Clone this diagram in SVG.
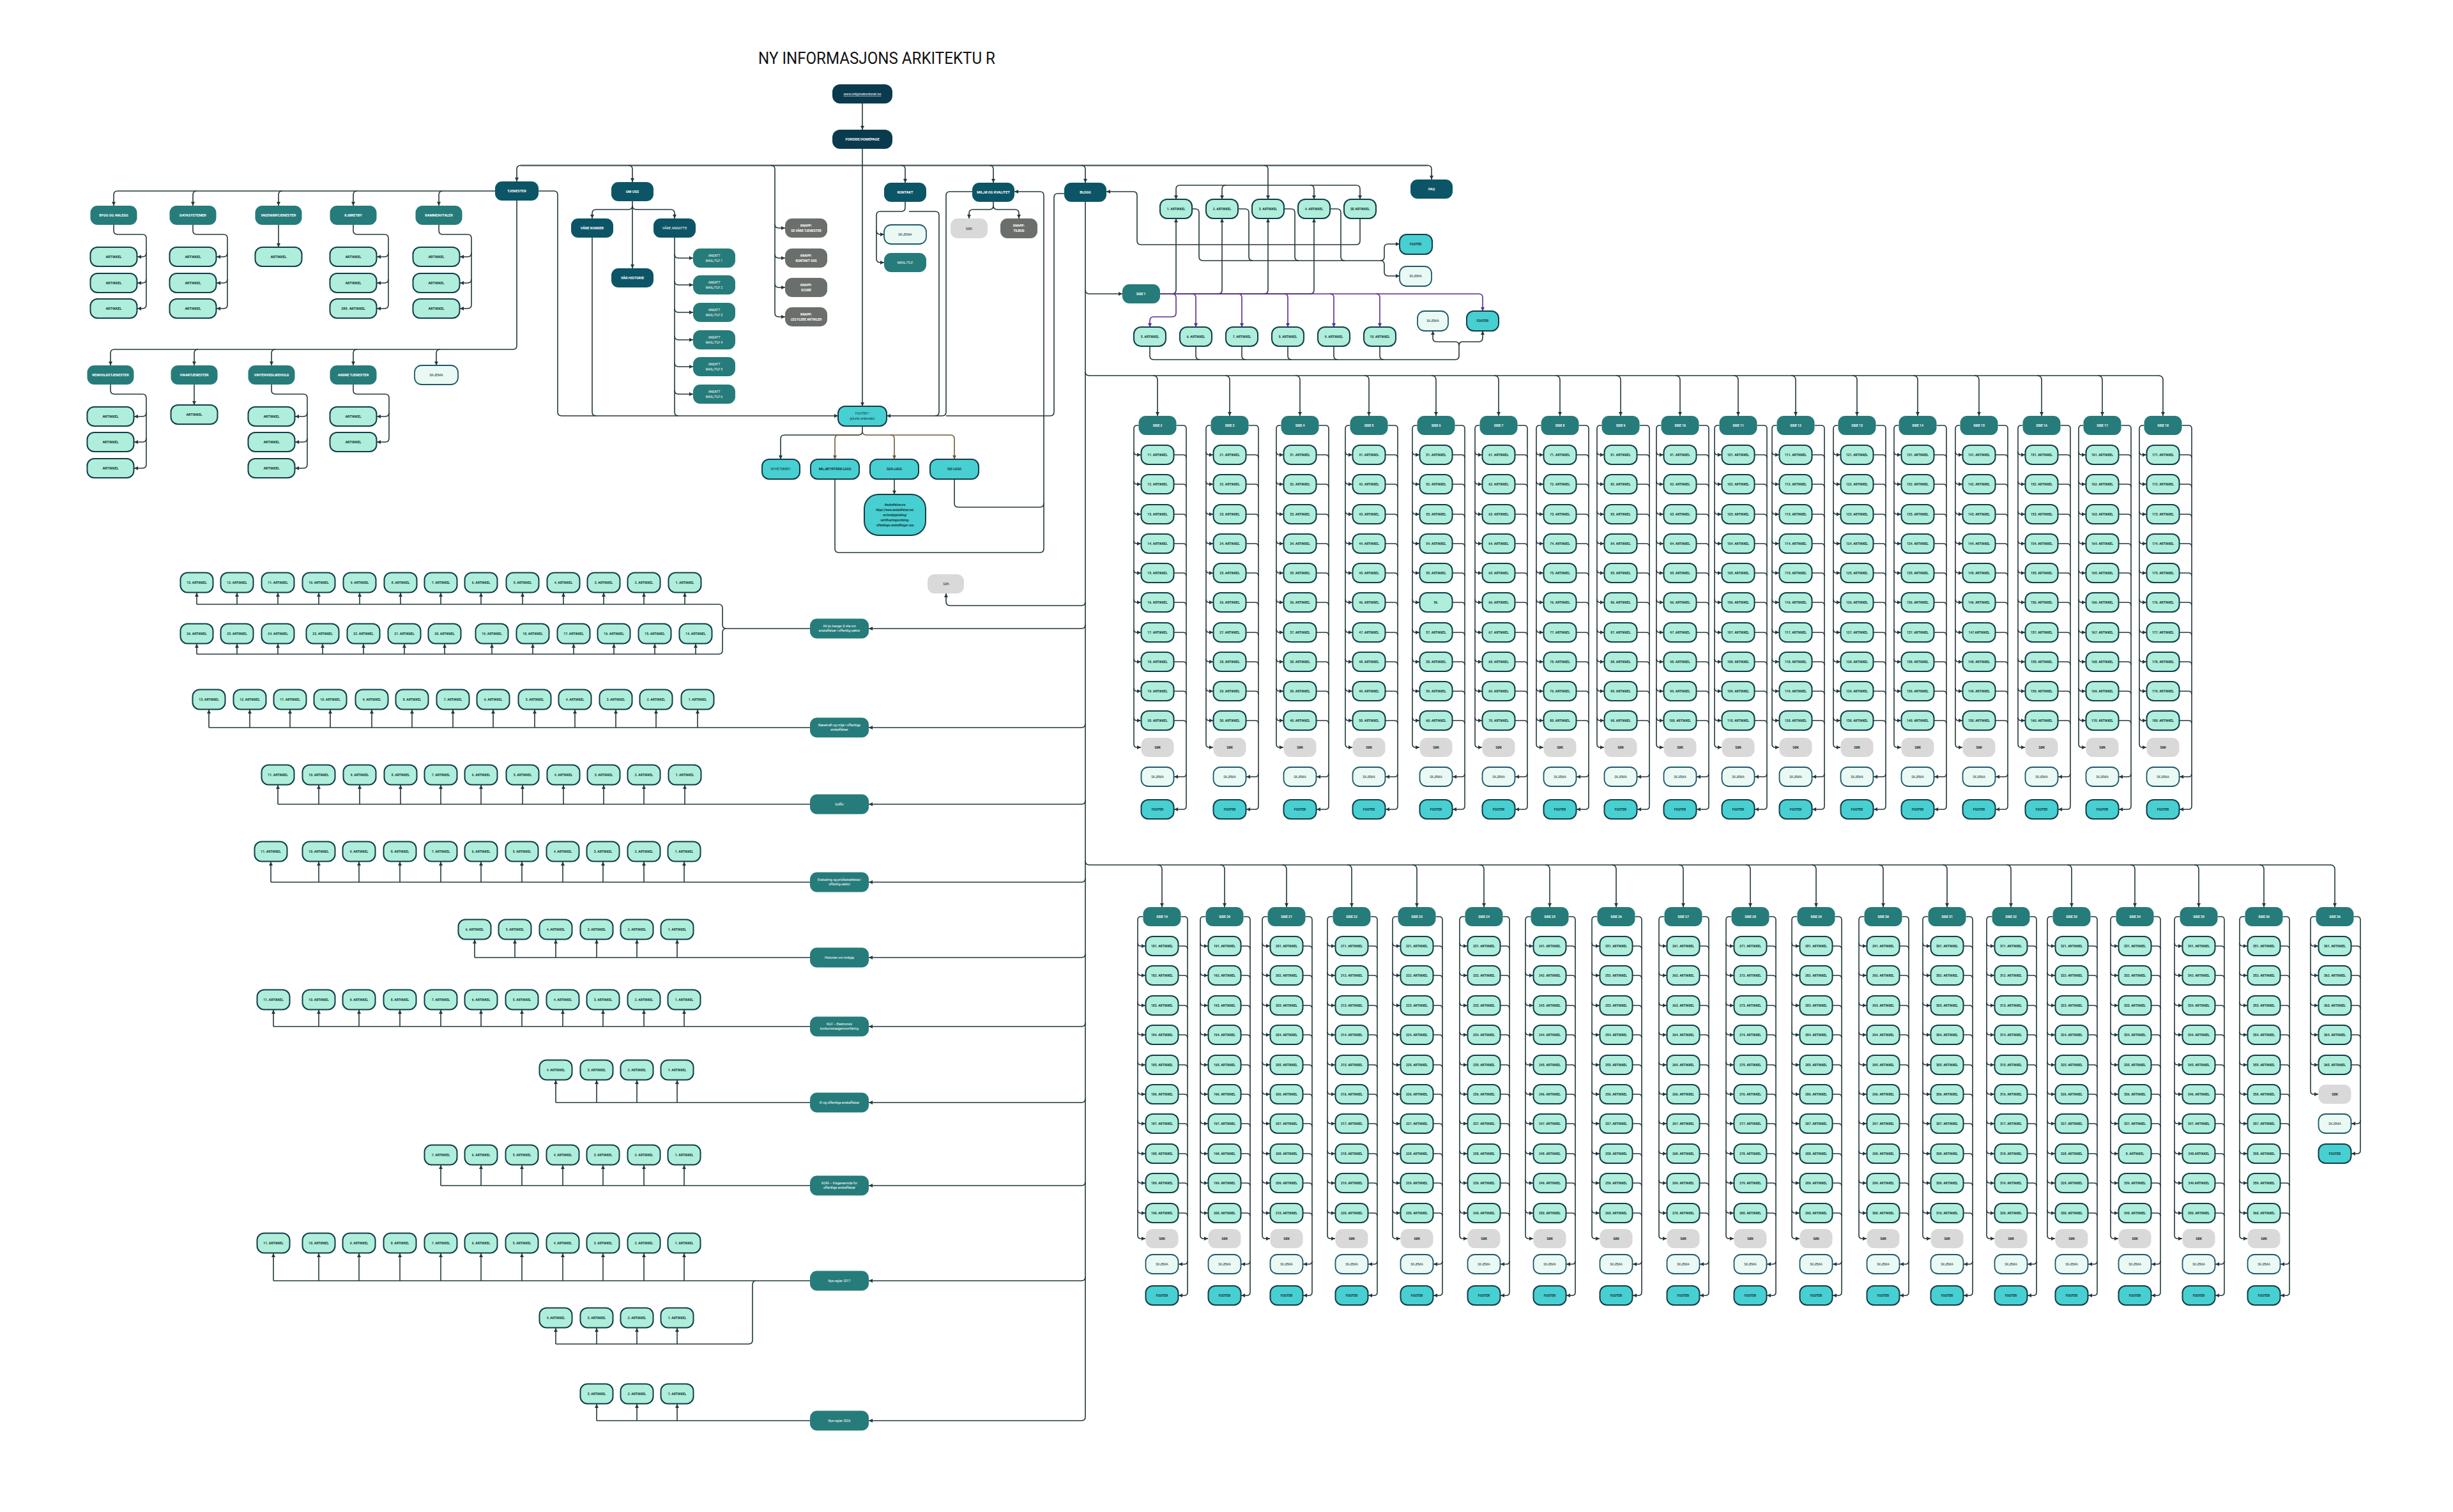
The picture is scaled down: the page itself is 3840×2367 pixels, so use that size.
<svg xmlns="http://www.w3.org/2000/svg" width="3840" height="2367" viewBox="0 0 3840 2367">
<style>
text{font-family:Roboto,"Liberation Sans",sans-serif;font-weight:700;font-size:5px;text-anchor:middle;fill:#15333b}
.w{fill:#fff}
.l{font-weight:400}
.u{font-size:5.5px}
.sm{font-size:4.6px}
.a{fill:#aeeedb;stroke:#123e4a;stroke-width:2}
.h{fill:#267c7a}
.d{fill:#0c5567}
.n{fill:#0a3a4e}
.s{fill:#eaf9f4;stroke:#1e5b6a;stroke-width:1.8}
.k{fill:#d9d9d9}
.f{fill:#48cfd1;stroke:#123e4a;stroke-width:2}
.g{fill:#6b6f6b}
.c path{fill:none;stroke:#24383b;stroke-width:1.6}
.c .e{marker-end:url(#m)}
.c .p{stroke:#5b2a91;marker-end:url(#mp)}
.c .b{stroke:#6d5a3a;marker-end:url(#mb)}
.c .M{stroke:#55686a;stroke-width:2.4}
.T{font-weight:400;font-size:25px;text-anchor:start;fill:#111}
</style>
<defs>
<marker id="m" viewBox="0 0 8 8" refX="8" refY="4" markerWidth="6" markerHeight="6" markerUnits="userSpaceOnUse" orient="auto"><path d="M0 0L8 4L0 8z" fill="#24383b"/></marker>
<marker id="mp" viewBox="0 0 8 8" refX="8" refY="4" markerWidth="6" markerHeight="6" markerUnits="userSpaceOnUse" orient="auto"><path d="M0 0L8 4L0 8z" fill="#5b2a91"/></marker>
<marker id="mb" viewBox="0 0 8 8" refX="8" refY="4" markerWidth="6" markerHeight="6" markerUnits="userSpaceOnUse" orient="auto"><path d="M0 0L8 4L0 8z" fill="#6d5a3a"/></marker>
<rect id="GA" class="a" x="-25.5" width="51" height="30" rx="11"/>
<rect id="GH" class="h" x="-29.5" width="59" height="30" rx="11"/>
<rect id="GK" class="k" x="-25.5" width="51" height="30" rx="11"/>
<rect id="GS" class="s" x="-25.5" width="51" height="30" rx="11"/>
<rect id="GF" class="f" x="-25.5" width="51" height="30" rx="11"/>
<rect id="L" class="a" x="-25.5" y="-15.5" width="51" height="31" rx="11"/>
<rect id="U" class="a" x="-36.5" width="73" height="30" rx="11"/>
<rect id="UH" class="h" x="-36.5" width="73" height="30" rx="11"/>
<rect id="SN" class="h" x="-46" y="-15.5" width="92" height="31" rx="11"/>
<rect id="B" class="a" x="-25" width="50" height="30" rx="11"/>
<rect id="AN" class="h" x="-33" width="66" height="30" rx="11"/>
<rect id="KN" class="g" x="-33" width="66" height="30" rx="11"/>
<g id="ct" class="c">
<path class="e" d="M-7 588Q0 588 0 595V651"/>
<path class="e" d="M-29.5 666H-32Q-37 666-37 671V1165Q-37 1170-32 1170H-26"/>
<path class="e" d="M-37 707Q-37 712-32 712H-26"/><path class="e" d="M-37 753Q-37 758-32 758H-26"/><path class="e" d="M-37 800Q-37 805-32 805H-26"/><path class="e" d="M-37 846Q-37 851-32 851H-26"/><path class="e" d="M-37 892Q-37 897-32 897H-26"/><path class="e" d="M-37 938Q-37 943-32 943H-26"/><path class="e" d="M-37 985Q-37 990-32 990H-26"/><path class="e" d="M-37 1031Q-37 1036-32 1036H-26"/><path class="e" d="M-37 1077Q-37 1082-32 1082H-26"/><path class="e" d="M-37 1123Q-37 1128-32 1128H-26"/>
<path class="e" d="M29.5 666H40Q45 666 45 671V1262Q45 1267 40 1267H26"/>
<path class="e" d="M45 1211Q45 1216 40 1216H26"/>
<path d="M26 712H40Q45 712 45 717M26 758H40Q45 758 45 763M26 805H40Q45 805 45 810M26 851H40Q45 851 45 856M26 897H40Q45 897 45 902M26 943H40Q45 943 45 948M26 990H40Q45 990 45 995M26 1036H40Q45 1036 45 1041M26 1082H40Q45 1082 45 1087M26 1128H40Q45 1128 45 1133"/>
</g>
<g id="cb" class="c">
<path class="e" d="M-7 1354Q0 1354 0 1361V1420"/>
<path class="e" d="M-29.5 1435H-33Q-38 1435-38 1440V1934Q-38 1939-33 1939H-26"/>
<path class="e" d="M-38 1476Q-38 1481-33 1481H-26"/><path class="e" d="M-38 1522Q-38 1527-33 1527H-26"/><path class="e" d="M-38 1569Q-38 1574-33 1574H-26"/><path class="e" d="M-38 1615Q-38 1620-33 1620H-26"/><path class="e" d="M-38 1662Q-38 1667-33 1667H-26"/><path class="e" d="M-38 1708Q-38 1713-33 1713H-26"/><path class="e" d="M-38 1754Q-38 1759-33 1759H-26"/><path class="e" d="M-38 1801Q-38 1806-33 1806H-26"/><path class="e" d="M-38 1847Q-38 1852-33 1852H-26"/><path class="e" d="M-38 1894Q-38 1899-33 1899H-26"/>
<path class="e" d="M29.5 1435H35Q40 1435 40 1440V2023Q40 2028 35 2028H26"/>
<path class="e" d="M40 1974Q40 1979 35 1979H26"/>
<path d="M26 1481H35Q40 1481 40 1486M26 1527H35Q40 1527 40 1532M26 1574H35Q40 1574 40 1579M26 1620H35Q40 1620 40 1625M26 1667H35Q40 1667 40 1672M26 1713H35Q40 1713 40 1718M26 1759H35Q40 1759 40 1764M26 1806H35Q40 1806 40 1811M26 1852H35Q40 1852 40 1857M26 1899H35Q40 1899 40 1904"/>
</g>
<g id="cb5" class="c">
<path class="e" d="M-7 1354Q0 1354 0 1361V1420"/>
<path class="e" d="M-29.5 1435H-33Q-38 1435-38 1440V1708Q-38 1713-33 1713H-26"/>
<path class="e" d="M-38 1476Q-38 1481-33 1481H-26"/><path class="e" d="M-38 1522Q-38 1527-33 1527H-26"/><path class="e" d="M-38 1569Q-38 1574-33 1574H-26"/><path class="e" d="M-38 1615Q-38 1620-33 1620H-26"/><path class="e" d="M-38 1662Q-38 1667-33 1667H-26"/>
<path class="e" d="M29.5 1435H35Q40 1435 40 1440V1801Q40 1806 35 1806H26"/>
<path class="e" d="M40 1754Q40 1759 35 1759H26"/>
<path d="M26 1481H35Q40 1481 40 1486M26 1527H35Q40 1527 40 1532M26 1574H35Q40 1574 40 1579M26 1620H35Q40 1620 40 1625M26 1667H35Q40 1667 40 1672"/>
</g>
</defs>
<rect width="3840" height="2367" fill="#fff"/>
<text class="T" x="1187" y="100" textLength="371" lengthAdjust="spacingAndGlyphs">NY INFORMASJONS ARKITEKTU R</text>

<g id="connectors" class="c">
<path class="M" d="M815 259H2235"/>
<path class="e" d="M815 259Q809 259 809 265V284"/>
<path class="e" d="M2235 259Q2241 259 2241 265V281"/>
<path class="e" d="M1350 162V203"/>
<path class="e" d="M1350 233V636"/>
<path class="e" d="M984 259Q990 259 990 265V285"/>
<path class="e" d="M1411 259Q1417 259 1417 265V286"/>
<path class="e" d="M1549 259Q1555 259 1555 265V286"/>
<path class="e" d="M1693 259Q1699 259 1699 265V286"/>
<path class="e" d="M1979 259Q1985 259 1985 265V312"/>
<path class="e" d="M1207 259Q1213 259 1213 265V490Q1213 496 1219 496H1229"/>
<path class="e" d="M1213 351Q1213 357 1219 357H1229"/><path class="e" d="M1213 398Q1213 404 1219 404H1229"/><path class="e" d="M1213 444Q1213 450 1219 450H1229"/>
<!-- tjenester row 1 -->
<path class="e" d="M775 299H184Q178 299 178 305V322"/>
<path class="e" d="M308 299Q302 299 302 305V322"/><path class="e" d="M442 299Q436 299 436 305V322"/><path class="e" d="M559 299Q553 299 553 305V322"/><path class="e" d="M693 299Q687 299 687 305V322"/>
<path class="e" d="M178 352V361Q178 367 184 367H223Q229 367 229 373V477Q229 483 223 483H215"/><path class="e" d="M229 396Q229 402 223 402H215"/><path class="e" d="M229 437Q229 443 223 443H215"/>
<path class="e" d="M302 352V361Q302 367 308 367H350Q356 367 356 373V477Q356 483 350 483H339"/><path class="e" d="M356 396Q356 402 350 402H339"/><path class="e" d="M356 437Q356 443 350 443H339"/>
<path class="e" d="M436 352V387"/>
<path class="e" d="M553 352V361Q553 367 559 367H602Q608 367 608 373V477Q608 483 602 483H590"/><path class="e" d="M608 396Q608 402 602 402H590"/><path class="e" d="M608 437Q608 443 602 443H590"/>
<path class="e" d="M687 352V361Q687 367 693 367H732Q738 367 738 373V477Q738 483 732 483H720"/><path class="e" d="M738 396Q738 402 732 402H720"/><path class="e" d="M738 437Q738 443 732 443H720"/>
<!-- tjenester row 2 -->
<path class="e" d="M809 314V541Q809 547 803 547H179Q173 547 173 553V572"/>
<path class="e" d="M310 547Q304 547 304 553V572"/><path class="e" d="M431 547Q425 547 425 553V572"/><path class="e" d="M559 547Q553 547 553 553V572"/><path class="e" d="M689 547Q683 547 683 553V572"/>
<path class="e" d="M173 602V611Q173 617 179 617H223Q229 617 229 623V727Q229 733 223 733H210"/><path class="e" d="M229 646Q229 652 223 652H210"/><path class="e" d="M229 686Q229 692 223 692H210"/>
<path class="e" d="M304 602V634"/>
<path class="e" d="M425 602V611Q425 617 431 617H475Q481 617 481 623V727Q481 733 475 733H462"/><path class="e" d="M481 646Q481 652 475 652H462"/><path class="e" d="M481 686Q481 692 475 692H462"/>
<path class="e" d="M553 602V611Q553 617 559 617H603Q609 617 609 623V686Q609 692 603 692H590"/><path class="e" d="M609 646Q609 652 603 652H590"/>
<!-- om oss -->
<path class="e" d="M843 299H867Q873 299 873 305V645Q873 651 879 651H1312"/>
<path class="e" d="M990 315V420"/>
<path class="e" d="M990 322Q990 328 984 328H933Q927 328 927 334V342"/>
<path class="e" d="M990 322Q990 328 996 328H1050Q1056 328 1056 334V342"/>
<path d="M927 372V645Q927 651 933 651M1056 372V645Q1056 651 1062 651"/>
<path class="e" d="M1056 398Q1056 404 1062 404H1085"/><path class="e" d="M1056 440Q1056 446 1062 446H1085"/><path class="e" d="M1056 483Q1056 489 1062 489H1085"/><path class="e" d="M1056 526Q1056 532 1062 532H1085"/><path class="e" d="M1056 568Q1056 574 1062 574H1085"/><path class="e" d="M1056 611Q1056 617 1062 617H1085"/>
<!-- kontakt / miljo / blogg to footer -->
<path class="e" d="M1417 315V325Q1417 331 1411 331H1378Q1372 331 1372 337V405Q1372 411 1378 411H1384"/>
<path class="e" d="M1372 361Q1372 367 1378 367H1384"/>
<path class="e" d="M1423 331H1464Q1470 331 1470 337V645Q1470 651 1464 651H1388"/>
<path d="M1522 300H1487Q1481 300 1481 306V645Q1481 651 1475 651H1464"/>
<path d="M1666 303H1656Q1650 303 1650 309V645Q1650 651 1644 651H1481"/>
<path class="e" d="M1555 315V322Q1555 328 1549 328H1523Q1517 328 1517 334V342"/>
<path class="e" d="M1555 322Q1555 328 1561 328H1589Q1595 328 1595 334V342"/>
<path class="e" d="M1350 667V675Q1350 681 1344 681H1228Q1222 681 1222 687V719"/>
<path class="b" d="M1350 675Q1350 681 1356 681H1488Q1494 681 1494 687V719"/>
<path class="b" d="M1344 681H1313Q1307 681 1307 687V719"/>
<path class="b" d="M1394 681Q1400 681 1400 687V719"/>
<path class="e" d="M1400 750V774"/>
<path class="e" d="M1307 750V859Q1307 865 1313 865H1628Q1634 865 1634 859V306Q1634 300 1628 300H1588"/>
<path d="M1494 750V788Q1494 794 1500 794H1628Q1634 794 1634 788"/>
<!-- blogg articles -->
<path class="e" d="M1985 290H1847Q1841 290 1841 296V312"/>
<path class="e" d="M1919 290Q1913 290 1913 296V312"/>
<path class="e" d="M1985 290H2123Q2129 290 2129 296V312"/>
<path class="e" d="M2051 290Q2057 290 2057 296V312"/>
<path class="e" d="M1816 460H2051Q2057 460 2057 454V342"/>
<path class="e" d="M1835 460Q1841 460 1841 454V342"/><path class="e" d="M1907 460Q1913 460 1913 454V342"/><path class="e" d="M1979 460Q1985 460 1985 454V342"/>
<path class="p" d="M1816 460H2315Q2321 460 2321 466V487"/>
<path class="p" d="M1835 460Q1841 460 1841 466V490Q1841 496 1835 496H1806Q1800 496 1800 502V512"/>
<path class="p" d="M1866 460Q1872 460 1872 466V512"/><path class="p" d="M1938 460Q1944 460 1944 466V512"/><path class="p" d="M2010 460Q2016 460 2016 466V512"/><path class="p" d="M2082 460Q2088 460 2088 466V512"/><path class="p" d="M2154 460Q2160 460 2160 466V512"/>
<path class="e" d="M1800 542V557Q1800 563 1806 563H2278Q2284 563 2284 557V541Q2284 535 2290 535H2315Q2321 535 2321 529V518"/>
<path class="e" d="M2284 541Q2284 535 2278 535H2249Q2243 535 2243 529V518"/>
<path d="M1872 542V557Q1872 563 1878 563M1944 542V557Q1944 563 1950 563M2016 542V557Q2016 563 2022 563M2088 542V557Q2088 563 2094 563M2160 542V557Q2160 563 2166 563"/>
<path class="e" d="M1866 327H1871Q1877 327 1877 333V402Q1877 408 1883 408H2161Q2167 408 2167 402V388Q2167 382 2173 382H2191"/>
<path class="e" d="M2161 408Q2167 408 2167 414V426Q2167 432 2173 432H2191"/>
<path d="M1938 327H1949Q1955 327 1955 333V402Q1955 408 1961 408M2010 327H2021Q2027 327 2027 333V402Q2027 408 2033 408M2082 327H2093Q2099 327 2099 333V402Q2099 408 2105 408"/>
<path class="e" d="M2129 342V377Q2129 383 2123 383H1786Q1780 383 1780 377V306Q1780 300 1774 300H1732"/>
<!-- spine -->
<path class="e" d="M1699 315V2218Q1699 2224 1693 2224H1360"/>
<path class="e" d="M1699 454Q1699 460 1705 460H1757"/>
<path d="M1699 582Q1699 588 1705 588H3380"/>
<path d="M1699 1348Q1699 1354 1705 1354H3649"/>
<path class="e" d="M1699 942Q1699 948 1693 948H1487Q1481 948 1481 942V929"/>
<path class="e" d="M1699 978Q1699 984 1693 984H1360"/><path class="e" d="M1699 1133Q1699 1139 1693 1139H1360"/><path class="e" d="M1699 1253Q1699 1259 1693 1259H1360"/><path class="e" d="M1699 1375Q1699 1381 1693 1381H1360"/><path class="e" d="M1699 1493Q1699 1499 1693 1499H1360"/><path class="e" d="M1699 1601Q1699 1607 1693 1607H1360"/><path class="e" d="M1699 1720Q1699 1726 1693 1726H1360"/><path class="e" d="M1699 1850Q1699 1856 1693 1856H1360"/><path class="e" d="M1699 1999Q1699 2005 1693 2005H1360"/>
<!-- left rows -->
<path d="M1268 984H1137Q1131 984 1131 978V952Q1131 946 1125 946H308M1137 984Q1131 984 1131 990V1018Q1131 1024 1125 1024H308"/>
<path class="e" d="M308 946V928"/><path class="e" d="M371 946V928"/><path class="e" d="M435 946V928"/><path class="e" d="M499 946V928"/><path class="e" d="M563 946V928"/><path class="e" d="M627 946V928"/><path class="e" d="M690 946V928"/><path class="e" d="M753 946V928"/><path class="e" d="M818 946V928"/><path class="e" d="M882 946V928"/><path class="e" d="M945 946V928"/><path class="e" d="M1008 946V928"/><path class="e" d="M1072 946V928"/>
<path class="e" d="M308 1024V1008"/><path class="e" d="M371 1024V1008"/><path class="e" d="M435 1024V1008"/><path class="e" d="M505 1024V1008"/><path class="e" d="M569 1024V1008"/><path class="e" d="M633 1024V1008"/><path class="e" d="M696 1024V1008"/><path class="e" d="M770 1024V1008"/><path class="e" d="M834 1024V1008"/><path class="e" d="M898 1024V1008"/><path class="e" d="M961 1024V1008"/><path class="e" d="M1025 1024V1008"/><path class="e" d="M1089 1024V1008"/>
<path d="M1268 1139H327"/>
<path class="e" d="M327 1139V1111"/><path class="e" d="M391 1139V1111"/><path class="e" d="M454 1139V1111"/><path class="e" d="M517 1139V1111"/><path class="e" d="M582 1139V1111"/><path class="e" d="M645 1139V1111"/><path class="e" d="M709 1139V1111"/><path class="e" d="M772 1139V1111"/><path class="e" d="M837 1139V1111"/><path class="e" d="M900 1139V1111"/><path class="e" d="M964 1139V1111"/><path class="e" d="M1027 1139V1111"/><path class="e" d="M1092 1139V1111"/>
<path d="M1268 1259H435"/>
<path class="e" d="M435 1259V1229"/><path class="e" d="M499 1259V1229"/><path class="e" d="M563 1259V1229"/><path class="e" d="M627 1259V1229"/><path class="e" d="M690 1259V1229"/><path class="e" d="M753 1259V1229"/><path class="e" d="M818 1259V1229"/><path class="e" d="M882 1259V1229"/><path class="e" d="M945 1259V1229"/><path class="e" d="M1008 1259V1229"/><path class="e" d="M1072 1259V1229"/>
<path d="M1268 1381H424"/>
<path class="e" d="M424 1381V1349"/><path class="e" d="M499 1381V1349"/><path class="e" d="M562 1381V1349"/><path class="e" d="M626 1381V1349"/><path class="e" d="M690 1381V1349"/><path class="e" d="M753 1381V1349"/><path class="e" d="M817 1381V1349"/><path class="e" d="M881 1381V1349"/><path class="e" d="M944 1381V1349"/><path class="e" d="M1008 1381V1349"/><path class="e" d="M1071 1381V1349"/>
<path d="M1268 1499H743"/>
<path class="e" d="M743 1499V1471"/><path class="e" d="M806 1499V1471"/><path class="e" d="M870 1499V1471"/><path class="e" d="M934 1499V1471"/><path class="e" d="M997 1499V1471"/><path class="e" d="M1060 1499V1471"/>
<path d="M1268 1607H428"/>
<path class="e" d="M428 1607V1581"/><path class="e" d="M499 1607V1581"/><path class="e" d="M562 1607V1581"/><path class="e" d="M626 1607V1581"/><path class="e" d="M690 1607V1581"/><path class="e" d="M753 1607V1581"/><path class="e" d="M817 1607V1581"/><path class="e" d="M881 1607V1581"/><path class="e" d="M944 1607V1581"/><path class="e" d="M1008 1607V1581"/><path class="e" d="M1071 1607V1581"/>
<path d="M1268 1726H870"/>
<path class="e" d="M870 1726V1691"/><path class="e" d="M934 1726V1691"/><path class="e" d="M997 1726V1691"/><path class="e" d="M1060 1726V1691"/>
<path d="M1268 1856H690"/>
<path class="e" d="M690 1856V1824"/><path class="e" d="M753 1856V1824"/><path class="e" d="M817 1856V1824"/><path class="e" d="M881 1856V1824"/><path class="e" d="M944 1856V1824"/><path class="e" d="M1008 1856V1824"/><path class="e" d="M1071 1856V1824"/>
<path d="M1268 2005H428M1184 2005Q1178 2005 1178 2011V2098Q1178 2104 1172 2104H870"/>
<path class="e" d="M428 2005V1962"/><path class="e" d="M499 2005V1962"/><path class="e" d="M562 2005V1962"/><path class="e" d="M626 2005V1962"/><path class="e" d="M690 2005V1962"/><path class="e" d="M753 2005V1962"/><path class="e" d="M817 2005V1962"/><path class="e" d="M881 2005V1962"/><path class="e" d="M944 2005V1962"/><path class="e" d="M1008 2005V1962"/><path class="e" d="M1071 2005V1962"/>
<path class="e" d="M870 2104V2079"/><path class="e" d="M934 2104V2079"/><path class="e" d="M997 2104V2079"/><path class="e" d="M1060 2104V2079"/>
<path d="M1268 2224H934"/>
<path class="e" d="M934 2224V2198"/><path class="e" d="M997 2224V2198"/><path class="e" d="M1060 2224V2198"/>
<!-- grids -->
<use href="#ct" x="1812"/><use href="#ct" x="1925"/><use href="#ct" x="2035"/><use href="#ct" x="2143"/><use href="#ct" x="2248"/><use href="#ct" x="2346"/><use href="#ct" x="2442"/><use href="#ct" x="2537"/><use href="#ct" x="2630"/><use href="#ct" x="2721"/><use href="#ct" x="2811"/><use href="#ct" x="2907"/><use href="#ct" x="3002"/><use href="#ct" x="3098"/><use href="#ct" x="3196"/><use href="#ct" x="3291"/><use href="#ct" x="3386"/>
<use href="#cb" x="1819"/><use href="#cb" x="1917"/><use href="#cb" x="2014"/><use href="#cb" x="2116"/><use href="#cb" x="2218"/><use href="#cb" x="2323"/><use href="#cb" x="2426"/><use href="#cb" x="2530"/><use href="#cb" x="2635"/><use href="#cb" x="2740"/><use href="#cb" x="2843"/><use href="#cb" x="2948"/><use href="#cb" x="3048"/><use href="#cb" x="3148"/><use href="#cb" x="3243"/><use href="#cb" x="3342"/><use href="#cb" x="3442"/><use href="#cb" x="3544"/><use href="#cb5" x="3655"/>
</g>

<!-- top nodes -->
<g id="www"><rect class="n" x="1303" y="132" width="94" height="30" rx="12"/><text class="w u l" x="1350" y="149" text-decoration="underline">www.inkjonskontoret.no</text></g>
<g id="forside"><rect class="n" x="1303" y="203" width="94" height="30" rx="12"/><text class="w u" x="1350" y="220">FORSIDE/HOMEPAGE</text></g>
<g id="tjenester"><rect class="d" x="775" y="284" width="68" height="30" rx="11"/><text class="w u" x="809" y="301">TJENESTER</text></g>
<g id="bygg"><use href="#UH" x="178" y="322"/><text class="w u" x="178" y="339">BYGG OG ANLEGG</text></g>
<g id="data"><use href="#UH" x="302" y="322"/><text class="w u" x="302" y="339">DATASYSTEMER</text></g>
<g id="ingenior"><use href="#UH" x="436" y="322"/><text class="w u" x="436" y="339">INGENIØRTJENESTER</text></g>
<g id="kjoretoy"><use href="#UH" x="553" y="322"/><text class="w u" x="553" y="339">KJØRETØY</text></g>
<g id="ramme"><use href="#UH" x="687" y="322"/><text class="w u" x="687" y="339">RAMMEAVTALER</text></g>
<g id="by1"><use href="#U" x="178" y="387"/><text class="u" x="178" y="404">ARTIKKEL</text></g>
<g id="by2"><use href="#U" x="178" y="428"/><text class="u" x="178" y="445">ARTIKKEL</text></g>
<g id="by3"><use href="#U" x="178" y="468"/><text class="u" x="178" y="485">ARTIKKEL</text></g>
<g id="da1"><use href="#U" x="302" y="387"/><text class="u" x="302" y="404">ARTIKKEL</text></g>
<g id="da2"><use href="#U" x="302" y="428"/><text class="u" x="302" y="445">ARTIKKEL</text></g>
<g id="da3"><use href="#U" x="302" y="468"/><text class="u" x="302" y="485">ARTIKKEL</text></g>
<g id="in1"><use href="#U" x="436" y="387"/><text class="u" x="436" y="404">ARTIKKEL</text></g>
<g id="kj1"><use href="#U" x="553" y="387"/><text class="u" x="553" y="404">ARTIKKEL</text></g>
<g id="kj2"><use href="#U" x="553" y="428"/><text class="u" x="553" y="445">ARTIKKEL</text></g>
<g id="kj3"><use href="#U" x="553" y="468"/><text class="u" x="553" y="485">289. ARTIKKEL</text></g>
<g id="ra1"><use href="#U" x="683" y="387"/><text class="u" x="683" y="404">ARTIKKEL</text></g>
<g id="ra2"><use href="#U" x="683" y="428"/><text class="u" x="683" y="445">ARTIKKEL</text></g>
<g id="ra3"><use href="#U" x="683" y="468"/><text class="u" x="683" y="485">ARTIKKEL</text></g>
<g id="renhold"><use href="#UH" x="173" y="572"/><text class="w u" x="173" y="589">RENHOLDSTJENESTER</text></g>
<g id="vikar"><use href="#UH" x="304" y="572"/><text class="w u" x="304" y="589">VIKARTJENESTER</text></g>
<g id="vinter"><use href="#UH" x="425" y="572"/><text class="w u" x="425" y="589">VINTERVEDLIKEHOLD</text></g>
<g id="andre"><use href="#UH" x="553" y="572"/><text class="w u" x="553" y="589">ANDRE TJENESTER</text></g>
<g id="skjema-tj"><rect class="s" x="649" y="572" width="68" height="30" rx="11"/><text class="u l" x="683" y="589">SKJEMA</text></g>
<g id="re1"><use href="#U" x="173" y="637"/><text class="u" x="173" y="654">ARTIKKEL</text></g>
<g id="re2"><use href="#U" x="173" y="677"/><text class="u" x="173" y="694">ARTIKKEL</text></g>
<g id="re3"><use href="#U" x="173" y="718"/><text class="u" x="173" y="735">ARTIKKEL</text></g>
<g id="vi1"><use href="#U" x="304" y="634"/><text class="u" x="304" y="651">ARTIKKEL</text></g>
<g id="vv1"><use href="#U" x="425" y="637"/><text class="u" x="425" y="654">ARTIKKEL</text></g>
<g id="vv2"><use href="#U" x="425" y="677"/><text class="u" x="425" y="694">ARTIKKEL</text></g>
<g id="vv3"><use href="#U" x="425" y="718"/><text class="u" x="425" y="735">ARTIKKEL</text></g>
<g id="an1"><use href="#U" x="553" y="637"/><text class="u" x="553" y="654">ARTIKKEL</text></g>
<g id="an2"><use href="#U" x="553" y="677"/><text class="u" x="553" y="694">ARTIKKEL</text></g>

<g id="omoss"><rect class="d" x="957" y="285" width="66" height="30" rx="11"/><text class="w u" x="990" y="302">OM OSS</text></g>
<g id="kunder"><rect class="d" x="894" y="342" width="66" height="30" rx="11"/><text class="w u" x="927" y="359">VÅRE KUNDER</text></g>
<g id="ansatte"><rect class="d" x="1023" y="342" width="66" height="30" rx="11"/><text class="w u l" x="1056" y="359">VÅRE ANSATTE</text></g>
<g id="historie"><rect class="d" x="957" y="420" width="66" height="30" rx="11"/><text class="w u" x="990" y="437">VÅR HISTORIE</text></g>
<g id="ans1"><use href="#AN" x="1118" y="389"/><text class="w l" x="1118" y="402">ANSATT</text><text class="w l" x="1118" y="410">MAIL/TLF 1</text></g>
<g id="ans2"><use href="#AN" x="1118" y="431"/><text class="w l" x="1118" y="444">ANSATT</text><text class="w l" x="1118" y="452">MAIL/TLF  2</text></g>
<g id="ans3"><use href="#AN" x="1118" y="474"/><text class="w l" x="1118" y="487">ANSATT</text><text class="w l" x="1118" y="495">MAIL/TLF  3</text></g>
<g id="ans4"><use href="#AN" x="1118" y="517"/><text class="w l" x="1118" y="530">ANSATT</text><text class="w l" x="1118" y="538">MAIL/TLF 4</text></g>
<g id="ans5"><use href="#AN" x="1118" y="559"/><text class="w l" x="1118" y="572">ANSATT</text><text class="w l" x="1118" y="580">MAIL/TLF 5</text></g>
<g id="ans6"><use href="#AN" x="1118" y="602"/><text class="w l" x="1118" y="615">ANSATT</text><text class="w l" x="1118" y="623">MAIL/TLF 6</text></g>
<g id="knapp1"><use href="#KN" x="1262" y="342"/><text class="w" x="1262" y="355">KNAPP:</text><text class="w" x="1262" y="363">SE VÅRE TJENESTER</text></g>
<g id="knapp2"><use href="#KN" x="1262" y="389"/><text class="w" x="1262" y="402">KNAPP:</text><text class="w" x="1262" y="410">KONTAKT OSS</text></g>
<g id="knapp3"><use href="#KN" x="1262" y="435"/><text class="w" x="1262" y="448">KNAPP:</text><text class="w" x="1262" y="456">SCORE</text></g>
<g id="knapp4"><use href="#KN" x="1262" y="481"/><text class="w" x="1262" y="494">KNAPP:</text><text class="w" x="1262" y="502">LES FLERE ARTIKLER</text></g>
<g id="kontakt"><rect class="d" x="1384" y="286" width="66" height="30" rx="11"/><text class="w u" x="1417" y="303">KONTAKT</text></g>
<g id="kontakt-skjema"><rect class="s" x="1384" y="352" width="66" height="30" rx="11"/><text class="u l" x="1417" y="369">SKJEMA</text></g>
<g id="mailtlf"><rect class="h" x="1384" y="396" width="66" height="30" rx="11"/><text class="w u l" x="1417" y="413">MAIL/TLF</text></g>
<g id="miljo"><rect class="d" x="1522" y="286" width="66" height="30" rx="11"/><text class="w u" x="1555" y="303">MILJØ OG KVALITET</text></g>
<g id="miljo-sok"><rect class="k" x="1488" y="342" width="58" height="31" rx="11"/><text class="u l" x="1517" y="360">SØK</text></g>
<g id="tilbud"><rect class="g" x="1566" y="342" width="58" height="31" rx="11"/><text class="w" x="1595" y="355">KNAPP:</text><text class="w" x="1595" y="363">TILBUD</text></g>
<g id="blogg"><rect class="d" x="1666" y="286" width="66" height="30" rx="11"/><text class="w u" x="1699" y="303">BLOGG</text></g>
<g id="faq"><rect class="d" x="2208" y="281" width="66" height="30" rx="11"/><text class="w u" x="2241" y="298">FAQ</text></g>
<g id="footer"><rect class="f" x="1312" y="636" width="76" height="31" rx="11"/><text class="l" x="1350" y="649">FOOTER *</text><text class="l sm" x="1350" y="657">(på alle undersider)</text></g>
<g id="nyhetsbrev"><rect class="f" x="1193" y="719" width="59" height="31" rx="11"/><text class="l" x="1222" y="736">NYHETSBREV</text></g>
<g id="miljofyr"><rect class="f" x="1269" y="719" width="76" height="31" rx="11"/><text x="1307" y="736">MILJØFYRTÅRN LOGO</text></g>
<g id="soa"><rect class="f" x="1362" y="719" width="76" height="31" rx="11"/><text x="1400" y="736">SOA LOGO</text></g>
<g id="iso"><rect class="f" x="1456" y="719" width="76" height="31" rx="11"/><text x="1494" y="736">ISO LOGO</text></g>
<g id="anskaffelser"><rect class="f" x="1353" y="774" width="96" height="64" rx="22"/><text class="sm" x="1401" y="792">Anskaffelser.no</text><text class="sm" x="1401" y="800">https://www.anskaffelser.no/</text><text class="sm" x="1401" y="808">nn/innkjopsleiing/</text><text class="sm" x="1401" y="816">sertifiseringsordning-</text><text class="sm" x="1401" y="824">offentlege-anskaffingar-soa</text></g>

<!-- blog articles -->
<g id="b1"><use href="#B" x="1841" y="312"/><text x="1841" y="329">1. ARTIKKEL</text></g>
<g id="b2"><use href="#B" x="1913" y="312"/><text x="1913" y="329">2. ARTIKKEL</text></g>
<g id="b3"><use href="#B" x="1985" y="312"/><text x="1985" y="329">3. ARTIKKEL</text></g>
<g id="b4"><use href="#B" x="2057" y="312"/><text x="2057" y="329">4. ARTIKKEL</text></g>
<g id="bse"><use href="#B" x="2129" y="312"/><text x="2129" y="329">SE ARTIKKEL</text></g>
<g id="bfooter1"><rect class="f" x="2191" y="367" width="51" height="31" rx="11"/><text x="2216" y="384">FOOTER</text></g>
<g id="bskjema1"><rect class="s" x="2191" y="417" width="50" height="31" rx="11"/><text class="l" x="2216" y="434">SKJEMA</text></g>
<g id="side1"><rect class="h" x="1757" y="445" width="59" height="30" rx="11"/><text class="w" x="1786" y="462">SIDE 1</text></g>
<g id="b5"><use href="#B" x="1800" y="512"/><text x="1800" y="529">5. ARTIKKEL</text></g>
<g id="b6"><use href="#B" x="1872" y="512"/><text x="1872" y="529">6. ARTIKKEL</text></g>
<g id="b7"><use href="#B" x="1944" y="512"/><text x="1944" y="529">7. ARTIKKEL</text></g>
<g id="b8"><use href="#B" x="2016" y="512"/><text x="2016" y="529">8. ARTIKKEL</text></g>
<g id="b9"><use href="#B" x="2088" y="512"/><text x="2088" y="529">9. ARTIKKEL</text></g>
<g id="b10"><use href="#B" x="2160" y="512"/><text x="2160" y="529">10. ARTIKKEL</text></g>
<g id="bskjema2"><rect class="s" x="2219" y="487" width="48" height="31" rx="11"/><text class="l" x="2243" y="504">SKJEMA</text></g>
<g id="bfooter2"><rect class="f" x="2296" y="487" width="50" height="31" rx="11"/><text x="2321" y="504">FOOTER</text></g>

<!-- left sections -->
<g id="sok-left"><rect class="k" x="1452" y="899" width="57" height="30" rx="11"/><text class="l" x="1481" y="916">SØK</text></g>
<g id="sec1"><use href="#SN" x="1314" y="984"/><text class="w l" x="1314" y="982">Alt du trenger å vite om</text><text class="w l" x="1314" y="989">anskaffelser i offentlig sektor</text></g>
<g id="sec2"><use href="#SN" x="1314" y="1139"/><text class="w l" x="1314" y="1137">Bærekraft og miljø i offentlige</text><text class="w l" x="1314" y="1144">anskaffelser</text></g>
<g id="sec3"><use href="#SN" x="1314" y="1259"/><text class="w l" x="1314" y="1261">Doffin</text></g>
<g id="sec4"><use href="#SN" x="1314" y="1381"/><text class="w l" x="1314" y="1379">Evaluering og prisfastsettelse i</text><text class="w l" x="1314" y="1386">offentlig sektor</text></g>
<g id="sec5"><use href="#SN" x="1314" y="1499"/><text class="w l" x="1314" y="1501">Historien om Innkjøp</text></g>
<g id="sec6"><use href="#SN" x="1314" y="1607"/><text class="w l" x="1314" y="1605">KGV – Elektronisk</text><text class="w l" x="1314" y="1612">konkurransegjennomføring</text></g>
<g id="sec7"><use href="#SN" x="1314" y="1726"/><text class="w l" x="1314" y="1728">KI og offentlige anskaffelser</text></g>
<g id="sec8"><use href="#SN" x="1314" y="1856"/><text class="w l" x="1314" y="1854">KOFA – Klagenemnda for</text><text class="w l" x="1314" y="1861">offentlige anskaffelser</text></g>
<g id="sec9"><use href="#SN" x="1314" y="2005"/><text class="w l" x="1314" y="2007">Nye regler 2017</text></g>
<g id="sec10"><use href="#SN" x="1314" y="2224"/><text class="w l" x="1314" y="2226">Nye regler 2026</text></g>

<g id="r1n13"><use href="#L" x="308" y="912"/><text x="308" y="914">13. ARTIKKEL</text></g>
<g id="r1n12"><use href="#L" x="371" y="912"/><text x="371" y="914">12. ARTIKKEL</text></g>
<g id="r1n11"><use href="#L" x="435" y="912"/><text x="435" y="914">11. ARTIKKEL</text></g>
<g id="r1n10"><use href="#L" x="499" y="912"/><text x="499" y="914">10. ARTIKKEL</text></g>
<g id="r1n9"><use href="#L" x="563" y="912"/><text x="563" y="914">9. ARTIKKEL</text></g>
<g id="r1n8"><use href="#L" x="627" y="912"/><text x="627" y="914">8. ARTIKKEL</text></g>
<g id="r1n7"><use href="#L" x="690" y="912"/><text x="690" y="914">7. ARTIKKEL</text></g>
<g id="r1n6"><use href="#L" x="753" y="912"/><text x="753" y="914">6. ARTIKKEL</text></g>
<g id="r1n5"><use href="#L" x="818" y="912"/><text x="818" y="914">5. ARTIKKEL</text></g>
<g id="r1n4"><use href="#L" x="882" y="912"/><text x="882" y="914">4. ARTIKKEL</text></g>
<g id="r1n3"><use href="#L" x="945" y="912"/><text x="945" y="914">3. ARTIKKEL</text></g>
<g id="r1n2"><use href="#L" x="1008" y="912"/><text x="1008" y="914">2. ARTIKKEL</text></g>
<g id="r1n1"><use href="#L" x="1072" y="912"/><text x="1072" y="914">1. ARTIKKEL</text></g>
<g id="r1n26"><use href="#L" x="308" y="992"/><text x="308" y="994">26. ARTIKKEL</text></g>
<g id="r1n25"><use href="#L" x="371" y="992"/><text x="371" y="994">25. ARTIKKEL</text></g>
<g id="r1n24"><use href="#L" x="435" y="992"/><text x="435" y="994">24. ARTIKKEL</text></g>
<g id="r1n23"><use href="#L" x="505" y="992"/><text x="505" y="994">23. ARTIKKEL</text></g>
<g id="r1n22"><use href="#L" x="569" y="992"/><text x="569" y="994">22. ARTIKKEL</text></g>
<g id="r1n21"><use href="#L" x="633" y="992"/><text x="633" y="994">21. ARTIKKEL</text></g>
<g id="r1n20"><use href="#L" x="696" y="992"/><text x="696" y="994">20. ARTIKKEL</text></g>
<g id="r1n19"><use href="#L" x="770" y="992"/><text x="770" y="994">19. ARTIKKEL</text></g>
<g id="r1n18"><use href="#L" x="834" y="992"/><text x="834" y="994">18. ARTIKKEL</text></g>
<g id="r1n17"><use href="#L" x="898" y="992"/><text x="898" y="994">17. ARTIKKEL</text></g>
<g id="r1n16"><use href="#L" x="961" y="992"/><text x="961" y="994">16. ARTIKKEL</text></g>
<g id="r1n15"><use href="#L" x="1025" y="992"/><text x="1025" y="994">15. ARTIKKEL</text></g>
<g id="r1n14"><use href="#L" x="1089" y="992"/><text x="1089" y="994">14. ARTIKKEL</text></g>

<g id="r2n13"><use href="#L" x="327" y="1095"/><text x="327" y="1097">13. ARTIKKEL</text></g>
<g id="r2n12"><use href="#L" x="391" y="1095"/><text x="391" y="1097">12. ARTIKKEL</text></g>
<g id="r2n11"><use href="#L" x="454" y="1095"/><text x="454" y="1097">11. ARTIKKEL</text></g>
<g id="r2n10"><use href="#L" x="517" y="1095"/><text x="517" y="1097">10. ARTIKKEL</text></g>
<g id="r2n9"><use href="#L" x="582" y="1095"/><text x="582" y="1097">9. ARTIKKEL</text></g>
<g id="r2n8"><use href="#L" x="645" y="1095"/><text x="645" y="1097">8. ARTIKKEL</text></g>
<g id="r2n7"><use href="#L" x="709" y="1095"/><text x="709" y="1097">7. ARTIKKEL</text></g>
<g id="r2n6"><use href="#L" x="772" y="1095"/><text x="772" y="1097">6. ARTIKKEL</text></g>
<g id="r2n5"><use href="#L" x="837" y="1095"/><text x="837" y="1097">5. ARTIKKEL</text></g>
<g id="r2n4"><use href="#L" x="900" y="1095"/><text x="900" y="1097">4. ARTIKKEL</text></g>
<g id="r2n3"><use href="#L" x="964" y="1095"/><text x="964" y="1097">3. ARTIKKEL</text></g>
<g id="r2n2"><use href="#L" x="1027" y="1095"/><text x="1027" y="1097">2. ARTIKKEL</text></g>
<g id="r2n1"><use href="#L" x="1092" y="1095"/><text x="1092" y="1097">1. ARTIKKEL</text></g>

<g id="r3n11"><use href="#L" x="435" y="1213"/><text x="435" y="1215">11. ARTIKKEL</text></g>
<g id="r3n10"><use href="#L" x="499" y="1213"/><text x="499" y="1215">10. ARTIKKEL</text></g>
<g id="r3n9"><use href="#L" x="563" y="1213"/><text x="563" y="1215">9. ARTIKKEL</text></g>
<g id="r3n8"><use href="#L" x="627" y="1213"/><text x="627" y="1215">8. ARTIKKEL</text></g>
<g id="r3n7"><use href="#L" x="690" y="1213"/><text x="690" y="1215">7. ARTIKKEL</text></g>
<g id="r3n6"><use href="#L" x="753" y="1213"/><text x="753" y="1215">6. ARTIKKEL</text></g>
<g id="r3n5"><use href="#L" x="818" y="1213"/><text x="818" y="1215">5. ARTIKKEL</text></g>
<g id="r3n4"><use href="#L" x="882" y="1213"/><text x="882" y="1215">4. ARTIKKEL</text></g>
<g id="r3n3"><use href="#L" x="945" y="1213"/><text x="945" y="1215">3. ARTIKKEL</text></g>
<g id="r3n2"><use href="#L" x="1008" y="1213"/><text x="1008" y="1215">2. ARTIKKEL</text></g>
<g id="r3n1"><use href="#L" x="1072" y="1213"/><text x="1072" y="1215">1. ARTIKKEL</text></g>

<g id="r4n11"><use href="#L" x="424" y="1333"/><text x="424" y="1335">11. ARTIKKEL</text></g>
<g id="r4n10"><use href="#L" x="499" y="1333"/><text x="499" y="1335">10. ARTIKKEL</text></g>
<g id="r4n9"><use href="#L" x="562" y="1333"/><text x="562" y="1335">9. ARTIKKEL</text></g>
<g id="r4n8"><use href="#L" x="626" y="1333"/><text x="626" y="1335">8. ARTIKKEL</text></g>
<g id="r4n7"><use href="#L" x="690" y="1333"/><text x="690" y="1335">7. ARTIKKEL</text></g>
<g id="r4n6"><use href="#L" x="753" y="1333"/><text x="753" y="1335">6. ARTIKKEL</text></g>
<g id="r4n5"><use href="#L" x="817" y="1333"/><text x="817" y="1335">5. ARTIKKEL</text></g>
<g id="r4n4"><use href="#L" x="881" y="1333"/><text x="881" y="1335">4. ARTIKKEL</text></g>
<g id="r4n3"><use href="#L" x="944" y="1333"/><text x="944" y="1335">3. ARTIKKEL</text></g>
<g id="r4n2"><use href="#L" x="1008" y="1333"/><text x="1008" y="1335">2. ARTIKKEL</text></g>
<g id="r4n1"><use href="#L" x="1071" y="1333"/><text x="1071" y="1335">1. ARTIKKEL</text></g>

<g id="r5n6"><use href="#L" x="743" y="1455"/><text x="743" y="1457">6. ARTIKKEL</text></g>
<g id="r5n5"><use href="#L" x="806" y="1455"/><text x="806" y="1457">5. ARTIKKEL</text></g>
<g id="r5n4"><use href="#L" x="870" y="1455"/><text x="870" y="1457">4. ARTIKKEL</text></g>
<g id="r5n3"><use href="#L" x="934" y="1455"/><text x="934" y="1457">3. ARTIKKEL</text></g>
<g id="r5n2"><use href="#L" x="997" y="1455"/><text x="997" y="1457">2. ARTIKKEL</text></g>
<g id="r5n1"><use href="#L" x="1060" y="1455"/><text x="1060" y="1457">1. ARTIKKEL</text></g>

<g id="r6n11"><use href="#L" x="428" y="1565"/><text x="428" y="1567">11. ARTIKKEL</text></g>
<g id="r6n10"><use href="#L" x="499" y="1565"/><text x="499" y="1567">10. ARTIKKEL</text></g>
<g id="r6n9"><use href="#L" x="562" y="1565"/><text x="562" y="1567">9. ARTIKKEL</text></g>
<g id="r6n8"><use href="#L" x="626" y="1565"/><text x="626" y="1567">8. ARTIKKEL</text></g>
<g id="r6n7"><use href="#L" x="690" y="1565"/><text x="690" y="1567">7. ARTIKKEL</text></g>
<g id="r6n6"><use href="#L" x="753" y="1565"/><text x="753" y="1567">6. ARTIKKEL</text></g>
<g id="r6n5"><use href="#L" x="817" y="1565"/><text x="817" y="1567">5. ARTIKKEL</text></g>
<g id="r6n4"><use href="#L" x="881" y="1565"/><text x="881" y="1567">4. ARTIKKEL</text></g>
<g id="r6n3"><use href="#L" x="944" y="1565"/><text x="944" y="1567">3. ARTIKKEL</text></g>
<g id="r6n2"><use href="#L" x="1008" y="1565"/><text x="1008" y="1567">2. ARTIKKEL</text></g>
<g id="r6n1"><use href="#L" x="1071" y="1565"/><text x="1071" y="1567">1. ARTIKKEL</text></g>

<g id="r7n4"><use href="#L" x="870" y="1675"/><text x="870" y="1677">4. ARTIKKEL</text></g>
<g id="r7n3"><use href="#L" x="934" y="1675"/><text x="934" y="1677">3. ARTIKKEL</text></g>
<g id="r7n2"><use href="#L" x="997" y="1675"/><text x="997" y="1677">2. ARTIKKEL</text></g>
<g id="r7n1"><use href="#L" x="1060" y="1675"/><text x="1060" y="1677">1. ARTIKKEL</text></g>

<g id="r8n7"><use href="#L" x="690" y="1808"/><text x="690" y="1810">7. ARTIKKEL</text></g>
<g id="r8n6"><use href="#L" x="753" y="1808"/><text x="753" y="1810">6. ARTIKKEL</text></g>
<g id="r8n5"><use href="#L" x="817" y="1808"/><text x="817" y="1810">5. ARTIKKEL</text></g>
<g id="r8n4"><use href="#L" x="881" y="1808"/><text x="881" y="1810">4. ARTIKKEL</text></g>
<g id="r8n3"><use href="#L" x="944" y="1808"/><text x="944" y="1810">3. ARTIKKEL</text></g>
<g id="r8n2"><use href="#L" x="1008" y="1808"/><text x="1008" y="1810">2. ARTIKKEL</text></g>
<g id="r8n1"><use href="#L" x="1071" y="1808"/><text x="1071" y="1810">1. ARTIKKEL</text></g>

<g id="r9n11"><use href="#L" x="428" y="1946"/><text x="428" y="1948">11. ARTIKKEL</text></g>
<g id="r9n10"><use href="#L" x="499" y="1946"/><text x="499" y="1948">10. ARTIKKEL</text></g>
<g id="r9n9"><use href="#L" x="562" y="1946"/><text x="562" y="1948">9. ARTIKKEL</text></g>
<g id="r9n8"><use href="#L" x="626" y="1946"/><text x="626" y="1948">8. ARTIKKEL</text></g>
<g id="r9n7"><use href="#L" x="690" y="1946"/><text x="690" y="1948">7. ARTIKKEL</text></g>
<g id="r9n6"><use href="#L" x="753" y="1946"/><text x="753" y="1948">6. ARTIKKEL</text></g>
<g id="r9n5"><use href="#L" x="817" y="1946"/><text x="817" y="1948">5. ARTIKKEL</text></g>
<g id="r9n4"><use href="#L" x="881" y="1946"/><text x="881" y="1948">4. ARTIKKEL</text></g>
<g id="r9n3"><use href="#L" x="944" y="1946"/><text x="944" y="1948">3. ARTIKKEL</text></g>
<g id="r9n2"><use href="#L" x="1008" y="1946"/><text x="1008" y="1948">2. ARTIKKEL</text></g>
<g id="r9n1"><use href="#L" x="1071" y="1946"/><text x="1071" y="1948">1. ARTIKKEL</text></g>
<g id="r9b4"><use href="#L" x="870" y="2063"/><text x="870" y="2065">4. ARTIKKEL</text></g>
<g id="r9b3"><use href="#L" x="934" y="2063"/><text x="934" y="2065">3. ARTIKKEL</text></g>
<g id="r9b2"><use href="#L" x="997" y="2063"/><text x="997" y="2065">2. ARTIKKEL</text></g>
<g id="r9b1"><use href="#L" x="1060" y="2063"/><text x="1060" y="2065">1. ARTIKKEL</text></g>

<g id="r10n3"><use href="#L" x="934" y="2182"/><text x="934" y="2184">3. ARTIKKEL</text></g>
<g id="r10n2"><use href="#L" x="997" y="2182"/><text x="997" y="2184">2. ARTIKKEL</text></g>
<g id="r10n1"><use href="#L" x="1060" y="2182"/><text x="1060" y="2184">1. ARTIKKEL</text></g>

<!-- top grid -->
<g id="col2" transform="translate(1812)"><g id="s2"><use href="#GH" y="651"/><text class="w" y="668">SIDE 2</text></g><g id="a11"><use href="#GA" y="697"/><text y="714">11. ARTIKKEL</text></g><g id="a12"><use href="#GA" y="743"/><text y="760">12. ARTIKKEL</text></g><g id="a13"><use href="#GA" y="790"/><text y="807">13. ARTIKKEL</text></g><g id="a14"><use href="#GA" y="836"/><text y="853">14. ARTIKKEL</text></g><g id="a15"><use href="#GA" y="882"/><text y="899">15. ARTIKKEL</text></g><g id="a16"><use href="#GA" y="928"/><text y="945">16. ARTIKKEL</text></g><g id="a17"><use href="#GA" y="975"/><text y="992">17. ARTIKKEL</text></g><g id="a18"><use href="#GA" y="1021"/><text y="1038">18. ARTIKKEL</text></g><g id="a19"><use href="#GA" y="1067"/><text y="1084">19. ARTIKKEL</text></g><g id="a20"><use href="#GA" y="1113"/><text y="1130">20. ARTIKKEL</text></g><g id="k2"><use href="#GK" y="1155"/><text y="1172">SØK</text></g><g id="j2"><use href="#GS" y="1201"/><text class="l" y="1218">SKJEMA</text></g><g id="f2"><use href="#GF" y="1252"/><text y="1269">FOOTER</text></g></g>
<g id="col3" transform="translate(1925)"><g id="s3"><use href="#GH" y="651"/><text class="w" y="668">SIDE 3</text></g><g id="a21"><use href="#GA" y="697"/><text y="714">21. ARTIKKEL</text></g><g id="a22"><use href="#GA" y="743"/><text y="760">22. ARTIKKEL</text></g><g id="a23"><use href="#GA" y="790"/><text y="807">23. ARTIKKEL</text></g><g id="a24"><use href="#GA" y="836"/><text y="853">24. ARTIKKEL</text></g><g id="a25"><use href="#GA" y="882"/><text y="899">25. ARTIKKEL</text></g><g id="a26"><use href="#GA" y="928"/><text y="945">26. ARTIKKEL</text></g><g id="a27"><use href="#GA" y="975"/><text y="992">27. ARTIKKEL</text></g><g id="a28"><use href="#GA" y="1021"/><text y="1038">28. ARTIKKEL</text></g><g id="a29"><use href="#GA" y="1067"/><text y="1084">29. ARTIKKEL</text></g><g id="a30"><use href="#GA" y="1113"/><text y="1130">30. ARTIKKEL</text></g><g id="k3"><use href="#GK" y="1155"/><text y="1172">SØK</text></g><g id="j3"><use href="#GS" y="1201"/><text class="l" y="1218">SKJEMA</text></g><g id="f3"><use href="#GF" y="1252"/><text y="1269">FOOTER</text></g></g>
<g id="col4" transform="translate(2035)"><g id="s4"><use href="#GH" y="651"/><text class="w" y="668">SIDE 4</text></g><g id="a31"><use href="#GA" y="697"/><text y="714">31. ARTIKKEL</text></g><g id="a32"><use href="#GA" y="743"/><text y="760">32. ARTIKKEL</text></g><g id="a33"><use href="#GA" y="790"/><text y="807">33. ARTIKKEL</text></g><g id="a34"><use href="#GA" y="836"/><text y="853">34. ARTIKKEL</text></g><g id="a35"><use href="#GA" y="882"/><text y="899">35. ARTIKKEL</text></g><g id="a36"><use href="#GA" y="928"/><text y="945">36. ARTIKKEL</text></g><g id="a37"><use href="#GA" y="975"/><text y="992">37. ARTIKKEL</text></g><g id="a38"><use href="#GA" y="1021"/><text y="1038">38. ARTIKKEL</text></g><g id="a39"><use href="#GA" y="1067"/><text y="1084">39. ARTIKKEL</text></g><g id="a40"><use href="#GA" y="1113"/><text y="1130">40. ARTIKKEL</text></g><g id="k4"><use href="#GK" y="1155"/><text y="1172">SØK</text></g><g id="j4"><use href="#GS" y="1201"/><text class="l" y="1218">SKJEMA</text></g><g id="f4"><use href="#GF" y="1252"/><text y="1269">FOOTER</text></g></g>
<g id="col5" transform="translate(2143)"><g id="s5"><use href="#GH" y="651"/><text class="w" y="668">SIDE 5</text></g><g id="a41"><use href="#GA" y="697"/><text y="714">41. ARTIKKEL</text></g><g id="a42"><use href="#GA" y="743"/><text y="760">42. ARTIKKEL</text></g><g id="a43"><use href="#GA" y="790"/><text y="807">43. ARTIKKEL</text></g><g id="a44"><use href="#GA" y="836"/><text y="853">44. ARTIKKEL</text></g><g id="a45"><use href="#GA" y="882"/><text y="899">45. ARTIKKEL</text></g><g id="a46"><use href="#GA" y="928"/><text y="945">46. ARTIKKEL</text></g><g id="a47"><use href="#GA" y="975"/><text y="992">47. ARTIKKEL</text></g><g id="a48"><use href="#GA" y="1021"/><text y="1038">48. ARTIKKEL</text></g><g id="a49"><use href="#GA" y="1067"/><text y="1084">49. ARTIKKEL</text></g><g id="a50"><use href="#GA" y="1113"/><text y="1130">50. ARTIKKEL</text></g><g id="k5"><use href="#GK" y="1155"/><text y="1172">SØK</text></g><g id="j5"><use href="#GS" y="1201"/><text class="l" y="1218">SKJEMA</text></g><g id="f5"><use href="#GF" y="1252"/><text y="1269">FOOTER</text></g></g>
<g id="col6" transform="translate(2248)"><g id="s6"><use href="#GH" y="651"/><text class="w" y="668">SIDE 6</text></g><g id="a51"><use href="#GA" y="697"/><text y="714">51. ARTIKKEL</text></g><g id="a52"><use href="#GA" y="743"/><text y="760">52. ARTIKKEL</text></g><g id="a53"><use href="#GA" y="790"/><text y="807">53. ARTIKKEL</text></g><g id="a54"><use href="#GA" y="836"/><text y="853">54. ARTIKKEL</text></g><g id="a55"><use href="#GA" y="882"/><text y="899">55. ARTIKKEL</text></g><g id="a56"><use href="#GA" y="928"/><text y="945">56.</text></g><g id="a57"><use href="#GA" y="975"/><text y="992">57. ARTIKKEL</text></g><g id="a58"><use href="#GA" y="1021"/><text y="1038">58. ARTIKKEL</text></g><g id="a59"><use href="#GA" y="1067"/><text y="1084">59. ARTIKKEL</text></g><g id="a60"><use href="#GA" y="1113"/><text y="1130">60. ARTIKKEL</text></g><g id="k6"><use href="#GK" y="1155"/><text y="1172">SØK</text></g><g id="j6"><use href="#GS" y="1201"/><text class="l" y="1218">SKJEMA</text></g><g id="f6"><use href="#GF" y="1252"/><text y="1269">FOOTER</text></g></g>
<g id="col7" transform="translate(2346)"><g id="s7"><use href="#GH" y="651"/><text class="w" y="668">SIDE 7</text></g><g id="a61"><use href="#GA" y="697"/><text y="714">61. ARTIKKEL</text></g><g id="a62"><use href="#GA" y="743"/><text y="760">62. ARTIKKEL</text></g><g id="a63"><use href="#GA" y="790"/><text y="807">63. ARTIKKEL</text></g><g id="a64"><use href="#GA" y="836"/><text y="853">64. ARTIKKEL</text></g><g id="a65"><use href="#GA" y="882"/><text y="899">65. ARTIKKEL</text></g><g id="a66"><use href="#GA" y="928"/><text y="945">66. ARTIKKEL</text></g><g id="a67"><use href="#GA" y="975"/><text y="992">67. ARTIKKEL</text></g><g id="a68"><use href="#GA" y="1021"/><text y="1038">68. ARTIKKEL</text></g><g id="a69"><use href="#GA" y="1067"/><text y="1084">69. ARTIKKEL</text></g><g id="a70"><use href="#GA" y="1113"/><text y="1130">70. ARTIKKEL</text></g><g id="k7"><use href="#GK" y="1155"/><text y="1172">SØK</text></g><g id="j7"><use href="#GS" y="1201"/><text class="l" y="1218">SKJEMA</text></g><g id="f7"><use href="#GF" y="1252"/><text y="1269">FOOTER</text></g></g>
<g id="col8" transform="translate(2442)"><g id="s8"><use href="#GH" y="651"/><text class="w" y="668">SIDE 8</text></g><g id="a71"><use href="#GA" y="697"/><text y="714">71. ARTIKKEL</text></g><g id="a72"><use href="#GA" y="743"/><text y="760">72. ARTIKKEL</text></g><g id="a73"><use href="#GA" y="790"/><text y="807">73. ARTIKKEL</text></g><g id="a74"><use href="#GA" y="836"/><text y="853">74. ARTIKKEL</text></g><g id="a75"><use href="#GA" y="882"/><text y="899">75. ARTIKKEL</text></g><g id="a76"><use href="#GA" y="928"/><text y="945">76. ARTIKKEL</text></g><g id="a77"><use href="#GA" y="975"/><text y="992">77. ARTIKKEL</text></g><g id="a78"><use href="#GA" y="1021"/><text y="1038">78. ARTIKKEL</text></g><g id="a79"><use href="#GA" y="1067"/><text y="1084">79. ARTIKKEL</text></g><g id="a80"><use href="#GA" y="1113"/><text y="1130">80. ARTIKKEL</text></g><g id="k8"><use href="#GK" y="1155"/><text y="1172">SØK</text></g><g id="j8"><use href="#GS" y="1201"/><text class="l" y="1218">SKJEMA</text></g><g id="f8"><use href="#GF" y="1252"/><text y="1269">FOOTER</text></g></g>
<g id="col9" transform="translate(2537)"><g id="s9"><use href="#GH" y="651"/><text class="w" y="668">SIDE 9</text></g><g id="a81"><use href="#GA" y="697"/><text y="714">81. ARTIKKEL</text></g><g id="a82"><use href="#GA" y="743"/><text y="760">82. ARTIKKEL</text></g><g id="a83"><use href="#GA" y="790"/><text y="807">83. ARTIKKEL</text></g><g id="a84"><use href="#GA" y="836"/><text y="853">84. ARTIKKEL</text></g><g id="a85"><use href="#GA" y="882"/><text y="899">85. ARTIKKEL</text></g><g id="a86"><use href="#GA" y="928"/><text y="945">86. ARTIKKEL</text></g><g id="a87"><use href="#GA" y="975"/><text y="992">87. ARTIKKEL</text></g><g id="a88"><use href="#GA" y="1021"/><text y="1038">88. ARTIKKEL</text></g><g id="a89"><use href="#GA" y="1067"/><text y="1084">89. ARTIKKEL</text></g><g id="a90"><use href="#GA" y="1113"/><text y="1130">90. ARTIKKEL</text></g><g id="k9"><use href="#GK" y="1155"/><text y="1172">SØK</text></g><g id="j9"><use href="#GS" y="1201"/><text class="l" y="1218">SKJEMA</text></g><g id="f9"><use href="#GF" y="1252"/><text y="1269">FOOTER</text></g></g>
<g id="col10" transform="translate(2630)"><g id="s10"><use href="#GH" y="651"/><text class="w" y="668">SIDE 10</text></g><g id="a91"><use href="#GA" y="697"/><text y="714">91. ARTIKKEL</text></g><g id="a92"><use href="#GA" y="743"/><text y="760">92. ARTIKKEL</text></g><g id="a93"><use href="#GA" y="790"/><text y="807">93. ARTIKKEL</text></g><g id="a94"><use href="#GA" y="836"/><text y="853">94. ARTIKKEL</text></g><g id="a95"><use href="#GA" y="882"/><text y="899">95. ARTIKKEL</text></g><g id="a96"><use href="#GA" y="928"/><text y="945">96. ARTIKKEL</text></g><g id="a97"><use href="#GA" y="975"/><text y="992">97. ARTIKKEL</text></g><g id="a98"><use href="#GA" y="1021"/><text y="1038">98. ARTIKKEL</text></g><g id="a99"><use href="#GA" y="1067"/><text y="1084">99. ARTIKKEL</text></g><g id="a100"><use href="#GA" y="1113"/><text y="1130">100. ARTIKKEL</text></g><g id="k10"><use href="#GK" y="1155"/><text y="1172">SØK</text></g><g id="j10"><use href="#GS" y="1201"/><text class="l" y="1218">SKJEMA</text></g><g id="f10"><use href="#GF" y="1252"/><text y="1269">FOOTER</text></g></g>
<g id="col11" transform="translate(2721)"><g id="s11"><use href="#GH" y="651"/><text class="w" y="668">SIDE 11</text></g><g id="a101"><use href="#GA" y="697"/><text y="714">101. ARTIKKEL</text></g><g id="a102"><use href="#GA" y="743"/><text y="760">102. ARTIKKEL</text></g><g id="a103"><use href="#GA" y="790"/><text y="807">103. ARTIKKEL</text></g><g id="a104"><use href="#GA" y="836"/><text y="853">104. ARTIKKEL</text></g><g id="a105"><use href="#GA" y="882"/><text y="899">105. ARTIKKEL</text></g><g id="a106"><use href="#GA" y="928"/><text y="945">106. ARTIKKEL</text></g><g id="a107"><use href="#GA" y="975"/><text y="992">107. ARTIKKEL</text></g><g id="a108"><use href="#GA" y="1021"/><text y="1038">108. ARTIKKEL</text></g><g id="a109"><use href="#GA" y="1067"/><text y="1084">109. ARTIKKEL</text></g><g id="a110"><use href="#GA" y="1113"/><text y="1130">110. ARTIKKEL</text></g><g id="k11"><use href="#GK" y="1155"/><text y="1172">SØK</text></g><g id="j11"><use href="#GS" y="1201"/><text class="l" y="1218">SKJEMA</text></g><g id="f11"><use href="#GF" y="1252"/><text y="1269">FOOTER</text></g></g>
<g id="col12" transform="translate(2811)"><g id="s12"><use href="#GH" y="651"/><text class="w" y="668">SIDE 12</text></g><g id="a111"><use href="#GA" y="697"/><text y="714">111. ARTIKKEL</text></g><g id="a112"><use href="#GA" y="743"/><text y="760">112. ARTIKKEL</text></g><g id="a113"><use href="#GA" y="790"/><text y="807">113. ARTIKKEL</text></g><g id="a114"><use href="#GA" y="836"/><text y="853">114. ARTIKKEL</text></g><g id="a115"><use href="#GA" y="882"/><text y="899">115. ARTIKKEL</text></g><g id="a116"><use href="#GA" y="928"/><text y="945">116. ARTIKKEL</text></g><g id="a117"><use href="#GA" y="975"/><text y="992">117. ARTIKKEL</text></g><g id="a118"><use href="#GA" y="1021"/><text y="1038">118. ARTIKKEL</text></g><g id="a119"><use href="#GA" y="1067"/><text y="1084">119. ARTIKKEL</text></g><g id="a120"><use href="#GA" y="1113"/><text y="1130">120. ARTIKKEL</text></g><g id="k12"><use href="#GK" y="1155"/><text y="1172">SØK</text></g><g id="j12"><use href="#GS" y="1201"/><text class="l" y="1218">SKJEMA</text></g><g id="f12"><use href="#GF" y="1252"/><text y="1269">FOOTER</text></g></g>
<g id="col13" transform="translate(2907)"><g id="s13"><use href="#GH" y="651"/><text class="w" y="668">SIDE 13</text></g><g id="a121"><use href="#GA" y="697"/><text y="714">121. ARTIKKEL</text></g><g id="a122"><use href="#GA" y="743"/><text y="760">122. ARTIKKEL</text></g><g id="a123"><use href="#GA" y="790"/><text y="807">123. ARTIKKEL</text></g><g id="a124"><use href="#GA" y="836"/><text y="853">124. ARTIKKEL</text></g><g id="a125"><use href="#GA" y="882"/><text y="899">125. ARTIKKEL</text></g><g id="a126"><use href="#GA" y="928"/><text y="945">126. ARTIKKEL</text></g><g id="a127"><use href="#GA" y="975"/><text y="992">127. ARTIKKEL</text></g><g id="a128"><use href="#GA" y="1021"/><text y="1038">128. ARTIKKEL</text></g><g id="a129"><use href="#GA" y="1067"/><text y="1084">129. ARTIKKEL</text></g><g id="a130"><use href="#GA" y="1113"/><text y="1130">130. ARTIKKEL</text></g><g id="k13"><use href="#GK" y="1155"/><text y="1172">SØK</text></g><g id="j13"><use href="#GS" y="1201"/><text class="l" y="1218">SKJEMA</text></g><g id="f13"><use href="#GF" y="1252"/><text y="1269">FOOTER</text></g></g>
<g id="col14" transform="translate(3002)"><g id="s14"><use href="#GH" y="651"/><text class="w" y="668">SIDE 14</text></g><g id="a131"><use href="#GA" y="697"/><text y="714">131. ARTIKKEL</text></g><g id="a132"><use href="#GA" y="743"/><text y="760">132. ARTIKKEL</text></g><g id="a133"><use href="#GA" y="790"/><text y="807">133. ARTIKKEL</text></g><g id="a134"><use href="#GA" y="836"/><text y="853">134. ARTIKKEL</text></g><g id="a135"><use href="#GA" y="882"/><text y="899">135. ARTIKKEL</text></g><g id="a136"><use href="#GA" y="928"/><text y="945">136. ARTIKKEL</text></g><g id="a137"><use href="#GA" y="975"/><text y="992">137. ARTIKKEL</text></g><g id="a138"><use href="#GA" y="1021"/><text y="1038">138. ARTIKKEL</text></g><g id="a139"><use href="#GA" y="1067"/><text y="1084">139. ARTIKKEL</text></g><g id="a140"><use href="#GA" y="1113"/><text y="1130">140. ARTIKKEL</text></g><g id="k14"><use href="#GK" y="1155"/><text y="1172">SØK</text></g><g id="j14"><use href="#GS" y="1201"/><text class="l" y="1218">SKJEMA</text></g><g id="f14"><use href="#GF" y="1252"/><text y="1269">FOOTER</text></g></g>
<g id="col15" transform="translate(3098)"><g id="s15"><use href="#GH" y="651"/><text class="w" y="668">SIDE 15</text></g><g id="a141"><use href="#GA" y="697"/><text y="714">141. ARTIKKEL</text></g><g id="a142"><use href="#GA" y="743"/><text y="760">142. ARTIKKEL</text></g><g id="a143"><use href="#GA" y="790"/><text y="807">143. ARTIKKEL</text></g><g id="a144"><use href="#GA" y="836"/><text y="853">144. ARTIKKEL</text></g><g id="a145"><use href="#GA" y="882"/><text y="899">145. ARTIKKEL</text></g><g id="a146"><use href="#GA" y="928"/><text y="945">146. ARTIKKEL</text></g><g id="a147"><use href="#GA" y="975"/><text y="992">147.ARTIKKEL</text></g><g id="a148"><use href="#GA" y="1021"/><text y="1038">148. ARTIKKEL</text></g><g id="a149"><use href="#GA" y="1067"/><text y="1084">149. ARTIKKEL</text></g><g id="a150"><use href="#GA" y="1113"/><text y="1130">150. ARTIKKEL</text></g><g id="k15"><use href="#GK" y="1155"/><text y="1172">SØK</text></g><g id="j15"><use href="#GS" y="1201"/><text class="l" y="1218">SKJEMA</text></g><g id="f15"><use href="#GF" y="1252"/><text y="1269">FOOTER</text></g></g>
<g id="col16" transform="translate(3196)"><g id="s16"><use href="#GH" y="651"/><text class="w" y="668">SIDE 16</text></g><g id="a151"><use href="#GA" y="697"/><text y="714">151. ARTIKKEL</text></g><g id="a152"><use href="#GA" y="743"/><text y="760">152. ARTIKKEL</text></g><g id="a153"><use href="#GA" y="790"/><text y="807">153. ARTIKKEL</text></g><g id="a154"><use href="#GA" y="836"/><text y="853">154. ARTIKKEL</text></g><g id="a155"><use href="#GA" y="882"/><text y="899">155. ARTIKKEL</text></g><g id="a156"><use href="#GA" y="928"/><text y="945">156. ARTIKKEL</text></g><g id="a157"><use href="#GA" y="975"/><text y="992">157. ARTIKKEL</text></g><g id="a158"><use href="#GA" y="1021"/><text y="1038">158. ARTIKKEL</text></g><g id="a159"><use href="#GA" y="1067"/><text y="1084">159. ARTIKKEL</text></g><g id="a160"><use href="#GA" y="1113"/><text y="1130">160. ARTIKKEL</text></g><g id="k16"><use href="#GK" y="1155"/><text y="1172">SØK</text></g><g id="j16"><use href="#GS" y="1201"/><text class="l" y="1218">SKJEMA</text></g><g id="f16"><use href="#GF" y="1252"/><text y="1269">FOOTER</text></g></g>
<g id="col17" transform="translate(3291)"><g id="s17"><use href="#GH" y="651"/><text class="w" y="668">SIDE 17</text></g><g id="a161"><use href="#GA" y="697"/><text y="714">161. ARTIKKEL</text></g><g id="a162"><use href="#GA" y="743"/><text y="760">162. ARTIKKEL</text></g><g id="a163"><use href="#GA" y="790"/><text y="807">163. ARTIKKEL</text></g><g id="a164"><use href="#GA" y="836"/><text y="853">164. ARTIKKEL</text></g><g id="a165"><use href="#GA" y="882"/><text y="899">165. ARTIKKEL</text></g><g id="a166"><use href="#GA" y="928"/><text y="945">166. ARTIKKEL</text></g><g id="a167"><use href="#GA" y="975"/><text y="992">167. ARTIKKEL</text></g><g id="a168"><use href="#GA" y="1021"/><text y="1038">168. ARTIKKEL</text></g><g id="a169"><use href="#GA" y="1067"/><text y="1084">169. ARTIKKEL</text></g><g id="a170"><use href="#GA" y="1113"/><text y="1130">170. ARTIKKEL</text></g><g id="k17"><use href="#GK" y="1155"/><text y="1172">SØK</text></g><g id="j17"><use href="#GS" y="1201"/><text class="l" y="1218">SKJEMA</text></g><g id="f17"><use href="#GF" y="1252"/><text y="1269">FOOTER</text></g></g>
<g id="col18" transform="translate(3386)"><g id="s18"><use href="#GH" y="651"/><text class="w" y="668">SIDE 18</text></g><g id="a171"><use href="#GA" y="697"/><text y="714">171. ARTIKKEL</text></g><g id="a172"><use href="#GA" y="743"/><text y="760">172. ARTIKKEL</text></g><g id="a173"><use href="#GA" y="790"/><text y="807">173. ARTIKKEL</text></g><g id="a174"><use href="#GA" y="836"/><text y="853">174. ARTIKKEL</text></g><g id="a175"><use href="#GA" y="882"/><text y="899">175. ARTIKKEL</text></g><g id="a176"><use href="#GA" y="928"/><text y="945">176. ARTIKKEL</text></g><g id="a177"><use href="#GA" y="975"/><text y="992">177. ARTIKKEL</text></g><g id="a178"><use href="#GA" y="1021"/><text y="1038">178. ARTIKKEL</text></g><g id="a179"><use href="#GA" y="1067"/><text y="1084">179. ARTIKKEL</text></g><g id="a180"><use href="#GA" y="1113"/><text y="1130">180. ARTIKKEL</text></g><g id="k18"><use href="#GK" y="1155"/><text y="1172">SØK</text></g><g id="j18"><use href="#GS" y="1201"/><text class="l" y="1218">SKJEMA</text></g><g id="f18"><use href="#GF" y="1252"/><text y="1269">FOOTER</text></g></g>

<!-- bottom grid -->
<g id="col19" transform="translate(1819)"><g id="s19"><use href="#GH" y="1420"/><text class="w" y="1437">SIDE 19</text></g><g id="a181"><use href="#GA" y="1466"/><text y="1483">181. ARTIKKEL</text></g><g id="a182"><use href="#GA" y="1512"/><text y="1529">182. ARTIKKEL</text></g><g id="a183"><use href="#GA" y="1559"/><text y="1576">183. ARTIKKEL</text></g><g id="a184"><use href="#GA" y="1605"/><text y="1622">184. ARTIKKEL</text></g><g id="a185"><use href="#GA" y="1652"/><text y="1669">185. ARTIKKEL</text></g><g id="a186"><use href="#GA" y="1698"/><text y="1715">186. ARTIKKEL</text></g><g id="a187"><use href="#GA" y="1744"/><text y="1761">187. ARTIKKEL</text></g><g id="a188"><use href="#GA" y="1791"/><text y="1808">188. ARTIKKEL</text></g><g id="a189"><use href="#GA" y="1837"/><text y="1854">189. ARTIKKEL</text></g><g id="a190"><use href="#GA" y="1884"/><text y="1901">190. ARTIKKEL</text></g><g id="k19"><use href="#GK" y="1924"/><text y="1941">SØK</text></g><g id="j19"><use href="#GS" y="1964"/><text class="l" y="1981">SKJEMA</text></g><g id="f19"><use href="#GF" y="2013"/><text y="2030">FOOTER</text></g></g>
<g id="col20" transform="translate(1917)"><g id="s20"><use href="#GH" y="1420"/><text class="w" y="1437">SIDE 20</text></g><g id="a191"><use href="#GA" y="1466"/><text y="1483">191. ARTIKKEL</text></g><g id="a192"><use href="#GA" y="1512"/><text y="1529">192. ARTIKKEL</text></g><g id="a193"><use href="#GA" y="1559"/><text y="1576">193. ARTIKKEL</text></g><g id="a194"><use href="#GA" y="1605"/><text y="1622">194. ARTIKKEL</text></g><g id="a195"><use href="#GA" y="1652"/><text y="1669">195. ARTIKKEL</text></g><g id="a196"><use href="#GA" y="1698"/><text y="1715">196. ARTIKKEL</text></g><g id="a197"><use href="#GA" y="1744"/><text y="1761">197. ARTIKKEL</text></g><g id="a198"><use href="#GA" y="1791"/><text y="1808">198. ARTIKKEL</text></g><g id="a199"><use href="#GA" y="1837"/><text y="1854">199. ARTIKKEL</text></g><g id="a200"><use href="#GA" y="1884"/><text y="1901">200. ARTIKKEL</text></g><g id="k20"><use href="#GK" y="1924"/><text y="1941">SØK</text></g><g id="j20"><use href="#GS" y="1964"/><text class="l" y="1981">SKJEMA</text></g><g id="f20"><use href="#GF" y="2013"/><text y="2030">FOOTER</text></g></g>
<g id="col21" transform="translate(2014)"><g id="s21"><use href="#GH" y="1420"/><text class="w" y="1437">SIDE 21</text></g><g id="a201"><use href="#GA" y="1466"/><text y="1483">201. ARTIKKEL</text></g><g id="a202"><use href="#GA" y="1512"/><text y="1529">202. ARTIKKEL</text></g><g id="a203"><use href="#GA" y="1559"/><text y="1576">203. ARTIKKEL</text></g><g id="a204"><use href="#GA" y="1605"/><text y="1622">204. ARTIKKEL</text></g><g id="a205"><use href="#GA" y="1652"/><text y="1669">205. ARTIKKEL</text></g><g id="a206"><use href="#GA" y="1698"/><text y="1715">206. ARTIKKEL</text></g><g id="a207"><use href="#GA" y="1744"/><text y="1761">207. ARTIKKEL</text></g><g id="a208"><use href="#GA" y="1791"/><text y="1808">208. ARTIKKEL</text></g><g id="a209"><use href="#GA" y="1837"/><text y="1854">209. ARTIKKEL</text></g><g id="a210"><use href="#GA" y="1884"/><text y="1901">210. ARTIKKEL</text></g><g id="k21"><use href="#GK" y="1924"/><text y="1941">SØK</text></g><g id="j21"><use href="#GS" y="1964"/><text class="l" y="1981">SKJEMA</text></g><g id="f21"><use href="#GF" y="2013"/><text y="2030">FOOTER</text></g></g>
<g id="col22" transform="translate(2116)"><g id="s22"><use href="#GH" y="1420"/><text class="w" y="1437">SIDE 22</text></g><g id="a211"><use href="#GA" y="1466"/><text y="1483">211. ARTIKKEL</text></g><g id="a212"><use href="#GA" y="1512"/><text y="1529">212. ARTIKKEL</text></g><g id="a213"><use href="#GA" y="1559"/><text y="1576">213. ARTIKKEL</text></g><g id="a214"><use href="#GA" y="1605"/><text y="1622">214. ARTIKKEL</text></g><g id="a215"><use href="#GA" y="1652"/><text y="1669">215. ARTIKKEL</text></g><g id="a216"><use href="#GA" y="1698"/><text y="1715">216.  ARTIKKEL</text></g><g id="a217"><use href="#GA" y="1744"/><text y="1761">217. ARTIKKEL</text></g><g id="a218"><use href="#GA" y="1791"/><text y="1808">218. ARTIKKEL</text></g><g id="a219"><use href="#GA" y="1837"/><text y="1854">219. ARTIKKEL</text></g><g id="a220"><use href="#GA" y="1884"/><text y="1901">220. ARTIKKEL</text></g><g id="k22"><use href="#GK" y="1924"/><text y="1941">SØK</text></g><g id="j22"><use href="#GS" y="1964"/><text class="l" y="1981">SKJEMA</text></g><g id="f22"><use href="#GF" y="2013"/><text y="2030">FOOTER</text></g></g>
<g id="col23" transform="translate(2218)"><g id="s23"><use href="#GH" y="1420"/><text class="w" y="1437">SIDE 23</text></g><g id="a221"><use href="#GA" y="1466"/><text y="1483">221. ARTIKKEL</text></g><g id="a222"><use href="#GA" y="1512"/><text y="1529">222. ARTIKKEL</text></g><g id="a223"><use href="#GA" y="1559"/><text y="1576">223. ARTIKKEL</text></g><g id="a224"><use href="#GA" y="1605"/><text y="1622">224. ARTIKKEL</text></g><g id="a225"><use href="#GA" y="1652"/><text y="1669">225. ARTIKKEL</text></g><g id="a226"><use href="#GA" y="1698"/><text y="1715">226. ARTIKKEL</text></g><g id="a227"><use href="#GA" y="1744"/><text y="1761">227. ARTIKKEL</text></g><g id="a228"><use href="#GA" y="1791"/><text y="1808">228. ARTIKKEL</text></g><g id="a229"><use href="#GA" y="1837"/><text y="1854">229. ARTIKKEL</text></g><g id="a230"><use href="#GA" y="1884"/><text y="1901">230. ARTIKKEL</text></g><g id="k23"><use href="#GK" y="1924"/><text y="1941">SØK</text></g><g id="j23"><use href="#GS" y="1964"/><text class="l" y="1981">SKJEMA</text></g><g id="f23"><use href="#GF" y="2013"/><text y="2030">FOOTER</text></g></g>
<g id="col24" transform="translate(2323)"><g id="s24"><use href="#GH" y="1420"/><text class="w" y="1437">SIDE 24</text></g><g id="a231"><use href="#GA" y="1466"/><text y="1483">231. ARTIKKEL</text></g><g id="a232"><use href="#GA" y="1512"/><text y="1529">232. ARTIKKEL</text></g><g id="a233"><use href="#GA" y="1559"/><text y="1576">233. ARTIKKEL</text></g><g id="a234"><use href="#GA" y="1605"/><text y="1622">234. ARTIKKEL</text></g><g id="a235"><use href="#GA" y="1652"/><text y="1669">235. ARTIKKEL</text></g><g id="a236"><use href="#GA" y="1698"/><text y="1715">236. ARTIKKEL</text></g><g id="a237"><use href="#GA" y="1744"/><text y="1761">237. ARTIKKEL</text></g><g id="a238"><use href="#GA" y="1791"/><text y="1808">238. ARTIKKEL</text></g><g id="a239"><use href="#GA" y="1837"/><text y="1854">239. ARTIKKEL</text></g><g id="a240"><use href="#GA" y="1884"/><text y="1901">240. ARTIKKEL</text></g><g id="k24"><use href="#GK" y="1924"/><text y="1941">SØK</text></g><g id="j24"><use href="#GS" y="1964"/><text class="l" y="1981">SKJEMA</text></g><g id="f24"><use href="#GF" y="2013"/><text y="2030">FOOTER</text></g></g>
<g id="col25" transform="translate(2426)"><g id="s25"><use href="#GH" y="1420"/><text class="w" y="1437">SIDE 25</text></g><g id="a241"><use href="#GA" y="1466"/><text y="1483">241. ARTIKKEL</text></g><g id="a242"><use href="#GA" y="1512"/><text y="1529">242. ARTIKKEL</text></g><g id="a243"><use href="#GA" y="1559"/><text y="1576">243. ARTIKKEL</text></g><g id="a244"><use href="#GA" y="1605"/><text y="1622">244. ARTIKKEL</text></g><g id="a245"><use href="#GA" y="1652"/><text y="1669">245. ARTIKKEL</text></g><g id="a246"><use href="#GA" y="1698"/><text y="1715">246. ARTIKKEL</text></g><g id="a247"><use href="#GA" y="1744"/><text y="1761">247. ARTIKKEL</text></g><g id="a248"><use href="#GA" y="1791"/><text y="1808">248. ARTIKKEL</text></g><g id="a249"><use href="#GA" y="1837"/><text y="1854">249. ARTIKKEL</text></g><g id="a250"><use href="#GA" y="1884"/><text y="1901">250. ARTIKKEL</text></g><g id="k25"><use href="#GK" y="1924"/><text y="1941">SØK</text></g><g id="j25"><use href="#GS" y="1964"/><text class="l" y="1981">SKJEMA</text></g><g id="f25"><use href="#GF" y="2013"/><text y="2030">FOOTER</text></g></g>
<g id="col26" transform="translate(2530)"><g id="s26"><use href="#GH" y="1420"/><text class="w" y="1437">SIDE 26</text></g><g id="a251"><use href="#GA" y="1466"/><text y="1483">251. ARTIKKEL</text></g><g id="a252"><use href="#GA" y="1512"/><text y="1529">252. ARTIKKEL</text></g><g id="a253"><use href="#GA" y="1559"/><text y="1576">253. ARTIKKEL</text></g><g id="a254"><use href="#GA" y="1605"/><text y="1622">254. ARTIKKEL</text></g><g id="a255"><use href="#GA" y="1652"/><text y="1669">255. ARTIKKEL</text></g><g id="a256"><use href="#GA" y="1698"/><text y="1715">256. ARTIKKEL</text></g><g id="a257"><use href="#GA" y="1744"/><text y="1761">257. ARTIKKEL</text></g><g id="a258"><use href="#GA" y="1791"/><text y="1808">258. ARTIKKEL</text></g><g id="a259"><use href="#GA" y="1837"/><text y="1854">259. ARTIKKEL</text></g><g id="a260"><use href="#GA" y="1884"/><text y="1901">260. ARTIKKEL</text></g><g id="k26"><use href="#GK" y="1924"/><text y="1941">SØK</text></g><g id="j26"><use href="#GS" y="1964"/><text class="l" y="1981">SKJEMA</text></g><g id="f26"><use href="#GF" y="2013"/><text y="2030">FOOTER</text></g></g>
<g id="col27" transform="translate(2635)"><g id="s27"><use href="#GH" y="1420"/><text class="w" y="1437">SIDE 27</text></g><g id="a261"><use href="#GA" y="1466"/><text y="1483">261. ARTIKKEL</text></g><g id="a262"><use href="#GA" y="1512"/><text y="1529">262. ARTIKKEL</text></g><g id="a263"><use href="#GA" y="1559"/><text y="1576">263. ARTIKKEL</text></g><g id="a264"><use href="#GA" y="1605"/><text y="1622">264. ARTIKKEL</text></g><g id="a265"><use href="#GA" y="1652"/><text y="1669">265. ARTIKKEL</text></g><g id="a266"><use href="#GA" y="1698"/><text y="1715">266. ARTIKKEL</text></g><g id="a267"><use href="#GA" y="1744"/><text y="1761">267. ARTIKKEL</text></g><g id="a268"><use href="#GA" y="1791"/><text y="1808">268. ARTIKKEL</text></g><g id="a269"><use href="#GA" y="1837"/><text y="1854">269. ARTIKKEL</text></g><g id="a270"><use href="#GA" y="1884"/><text y="1901">270. ARTIKKEL</text></g><g id="k27"><use href="#GK" y="1924"/><text y="1941">SØK</text></g><g id="j27"><use href="#GS" y="1964"/><text class="l" y="1981">SKJEMA</text></g><g id="f27"><use href="#GF" y="2013"/><text y="2030">FOOTER</text></g></g>
<g id="col28" transform="translate(2740)"><g id="s28"><use href="#GH" y="1420"/><text class="w" y="1437">SIDE 28</text></g><g id="a271"><use href="#GA" y="1466"/><text y="1483">271. ARTIKKEL</text></g><g id="a272"><use href="#GA" y="1512"/><text y="1529">272. ARTIKKEL</text></g><g id="a273"><use href="#GA" y="1559"/><text y="1576">273. ARTIKKEL</text></g><g id="a274"><use href="#GA" y="1605"/><text y="1622">274. ARTIKKEL</text></g><g id="a275"><use href="#GA" y="1652"/><text y="1669">275. ARTIKKEL</text></g><g id="a276"><use href="#GA" y="1698"/><text y="1715">276. ARTIKKEL</text></g><g id="a277"><use href="#GA" y="1744"/><text y="1761">277. ARTIKKEL</text></g><g id="a278"><use href="#GA" y="1791"/><text y="1808">278. ARTIKKEL</text></g><g id="a279"><use href="#GA" y="1837"/><text y="1854">279. ARTIKKEL</text></g><g id="a280"><use href="#GA" y="1884"/><text y="1901">280. ARTIKKEL</text></g><g id="k28"><use href="#GK" y="1924"/><text y="1941">SØK</text></g><g id="j28"><use href="#GS" y="1964"/><text class="l" y="1981">SKJEMA</text></g><g id="f28"><use href="#GF" y="2013"/><text y="2030">FOOTER</text></g></g>
<g id="col29" transform="translate(2843)"><g id="s29"><use href="#GH" y="1420"/><text class="w" y="1437">SIDE 29</text></g><g id="a281"><use href="#GA" y="1466"/><text y="1483">281. ARTIKKEL</text></g><g id="a282"><use href="#GA" y="1512"/><text y="1529">282. ARTIKKEL</text></g><g id="a283"><use href="#GA" y="1559"/><text y="1576">283. ARTIKKEL</text></g><g id="a284"><use href="#GA" y="1605"/><text y="1622">284. ARTIKKEL</text></g><g id="a285"><use href="#GA" y="1652"/><text y="1669">285. ARTIKKEL</text></g><g id="a286"><use href="#GA" y="1698"/><text y="1715">286. ARTIKKEL</text></g><g id="a287"><use href="#GA" y="1744"/><text y="1761">287. ARTIKKEL</text></g><g id="a288"><use href="#GA" y="1791"/><text y="1808">288. ARTIKKEL</text></g><g id="a289"><use href="#GA" y="1837"/><text y="1854">289. ARTIKKEL</text></g><g id="a290"><use href="#GA" y="1884"/><text y="1901">290. ARTIKKEL</text></g><g id="k29"><use href="#GK" y="1924"/><text y="1941">SØK</text></g><g id="j29"><use href="#GS" y="1964"/><text class="l" y="1981">SKJEMA</text></g><g id="f29"><use href="#GF" y="2013"/><text y="2030">FOOTER</text></g></g>
<g id="col30" transform="translate(2948)"><g id="s30"><use href="#GH" y="1420"/><text class="w" y="1437">SIDE 30</text></g><g id="a291"><use href="#GA" y="1466"/><text y="1483">291. ARTIKKEL</text></g><g id="a292"><use href="#GA" y="1512"/><text y="1529">292. ARTIKKEL</text></g><g id="a293"><use href="#GA" y="1559"/><text y="1576">293. ARTIKKEL</text></g><g id="a294"><use href="#GA" y="1605"/><text y="1622">294. ARTIKKEL</text></g><g id="a295"><use href="#GA" y="1652"/><text y="1669">295. ARTIKKEL</text></g><g id="a296"><use href="#GA" y="1698"/><text y="1715">296. ARTIKKEL</text></g><g id="a297"><use href="#GA" y="1744"/><text y="1761">297. ARTIKKEL</text></g><g id="a298"><use href="#GA" y="1791"/><text y="1808">298. ARTIKKEL</text></g><g id="a299"><use href="#GA" y="1837"/><text y="1854">299. ARTIKKEL</text></g><g id="a300"><use href="#GA" y="1884"/><text y="1901">300. ARTIKKEL</text></g><g id="k30"><use href="#GK" y="1924"/><text y="1941">SØK</text></g><g id="j30"><use href="#GS" y="1964"/><text class="l" y="1981">SKJEMA</text></g><g id="f30"><use href="#GF" y="2013"/><text y="2030">FOOTER</text></g></g>
<g id="col31" transform="translate(3048)"><g id="s31"><use href="#GH" y="1420"/><text class="w" y="1437">SIDE 31</text></g><g id="a301"><use href="#GA" y="1466"/><text y="1483">301. ARTIKKEL</text></g><g id="a302"><use href="#GA" y="1512"/><text y="1529">302. ARTIKKEL</text></g><g id="a303"><use href="#GA" y="1559"/><text y="1576">303. ARTIKKEL</text></g><g id="a304"><use href="#GA" y="1605"/><text y="1622">304. ARTIKKEL</text></g><g id="a305"><use href="#GA" y="1652"/><text y="1669">305. ARTIKKEL</text></g><g id="a306"><use href="#GA" y="1698"/><text y="1715">306. ARTIKKEL</text></g><g id="a307"><use href="#GA" y="1744"/><text y="1761">307. ARTIKKEL</text></g><g id="a308"><use href="#GA" y="1791"/><text y="1808">308. ARTIKKEL</text></g><g id="a309"><use href="#GA" y="1837"/><text y="1854">309. ARTIKKEL</text></g><g id="a310"><use href="#GA" y="1884"/><text y="1901">310. ARTIKKEL</text></g><g id="k31"><use href="#GK" y="1924"/><text y="1941">SØK</text></g><g id="j31"><use href="#GS" y="1964"/><text class="l" y="1981">SKJEMA</text></g><g id="f31"><use href="#GF" y="2013"/><text y="2030">FOOTER</text></g></g>
<g id="col32" transform="translate(3148)"><g id="s32"><use href="#GH" y="1420"/><text class="w" y="1437">SIDE 32</text></g><g id="a311"><use href="#GA" y="1466"/><text y="1483">311. ARTIKKEL</text></g><g id="a312"><use href="#GA" y="1512"/><text y="1529">312. ARTIKKEL</text></g><g id="a313"><use href="#GA" y="1559"/><text y="1576">313. ARTIKKEL</text></g><g id="a314"><use href="#GA" y="1605"/><text y="1622">314. ARTIKKEL</text></g><g id="a315"><use href="#GA" y="1652"/><text y="1669">315. ARTIKKEL</text></g><g id="a316"><use href="#GA" y="1698"/><text y="1715">316. ARTIKKEL</text></g><g id="a317"><use href="#GA" y="1744"/><text y="1761">317. ARTIKKEL</text></g><g id="a318"><use href="#GA" y="1791"/><text y="1808">318. ARTIKKEL</text></g><g id="a319"><use href="#GA" y="1837"/><text y="1854">319. ARTIKKEL</text></g><g id="a320"><use href="#GA" y="1884"/><text y="1901">320. ARTIKKEL</text></g><g id="k32"><use href="#GK" y="1924"/><text y="1941">SØK</text></g><g id="j32"><use href="#GS" y="1964"/><text class="l" y="1981">SKJEMA</text></g><g id="f32"><use href="#GF" y="2013"/><text y="2030">FOOTER</text></g></g>
<g id="col33" transform="translate(3243)"><g id="s33"><use href="#GH" y="1420"/><text class="w" y="1437">SIDE 33</text></g><g id="a321"><use href="#GA" y="1466"/><text y="1483">321. ARTIKKEL</text></g><g id="a322"><use href="#GA" y="1512"/><text y="1529">322. ARTIKKEL</text></g><g id="a323"><use href="#GA" y="1559"/><text y="1576">323. ARTIKKEL</text></g><g id="a324"><use href="#GA" y="1605"/><text y="1622">324. ARTIKKEL</text></g><g id="a325"><use href="#GA" y="1652"/><text y="1669">325. ARTIKKEL</text></g><g id="a326"><use href="#GA" y="1698"/><text y="1715">326. ARTIKKEL</text></g><g id="a327"><use href="#GA" y="1744"/><text y="1761">327. ARTIKKEL</text></g><g id="a328"><use href="#GA" y="1791"/><text y="1808">328. ARTIKKEL</text></g><g id="a329"><use href="#GA" y="1837"/><text y="1854">329. ARTIKKEL</text></g><g id="a330"><use href="#GA" y="1884"/><text y="1901">330. ARTIKKEL</text></g><g id="k33"><use href="#GK" y="1924"/><text y="1941">SØK</text></g><g id="j33"><use href="#GS" y="1964"/><text class="l" y="1981">SKJEMA</text></g><g id="f33"><use href="#GF" y="2013"/><text y="2030">FOOTER</text></g></g>
<g id="col34" transform="translate(3342)"><g id="s34"><use href="#GH" y="1420"/><text class="w" y="1437">SIDE 34</text></g><g id="a331"><use href="#GA" y="1466"/><text y="1483">331. ARTIKKEL</text></g><g id="a332"><use href="#GA" y="1512"/><text y="1529">332. ARTIKKEL</text></g><g id="a333"><use href="#GA" y="1559"/><text y="1576">333. ARTIKKEL</text></g><g id="a334"><use href="#GA" y="1605"/><text y="1622">334. ARTIKKEL</text></g><g id="a335"><use href="#GA" y="1652"/><text y="1669">335. ARTIKKEL</text></g><g id="a336"><use href="#GA" y="1698"/><text y="1715">336. ARTIKKEL</text></g><g id="a337"><use href="#GA" y="1744"/><text y="1761">337. ARTIKKEL</text></g><g id="a338"><use href="#GA" y="1791"/><text y="1808">8.  ARTIKKEL</text></g><g id="a339"><use href="#GA" y="1837"/><text y="1854">339. ARTIKKEL</text></g><g id="a340"><use href="#GA" y="1884"/><text y="1901">340. ARTIKKEL</text></g><g id="k34"><use href="#GK" y="1924"/><text y="1941">SØK</text></g><g id="j34"><use href="#GS" y="1964"/><text class="l" y="1981">SKJEMA</text></g><g id="f34"><use href="#GF" y="2013"/><text y="2030">FOOTER</text></g></g>
<g id="col35" transform="translate(3442)"><g id="s35"><use href="#GH" y="1420"/><text class="w" y="1437">SIDE 35</text></g><g id="a341"><use href="#GA" y="1466"/><text y="1483">341. ARTIKKEL</text></g><g id="a342"><use href="#GA" y="1512"/><text y="1529">342. ARTIKKEL</text></g><g id="a343"><use href="#GA" y="1559"/><text y="1576">334. ARTIKKEL</text></g><g id="a344"><use href="#GA" y="1605"/><text y="1622">344. ARTIKKEL</text></g><g id="a345"><use href="#GA" y="1652"/><text y="1669">345. ARTIKKEL</text></g><g id="a346"><use href="#GA" y="1698"/><text y="1715">346. ARTIKKEL</text></g><g id="a347"><use href="#GA" y="1744"/><text y="1761">347. ARTIKKEL</text></g><g id="a348"><use href="#GA" y="1791"/><text y="1808">348.ARTIKKEL</text></g><g id="a349"><use href="#GA" y="1837"/><text y="1854">349.ARTIKKEL</text></g><g id="a350"><use href="#GA" y="1884"/><text y="1901">350. ARTIKKEL</text></g><g id="k35"><use href="#GK" y="1924"/><text y="1941">SØK</text></g><g id="j35"><use href="#GS" y="1964"/><text class="l" y="1981">SKJEMA</text></g><g id="f35"><use href="#GF" y="2013"/><text y="2030">FOOTER</text></g></g>
<g id="col36" transform="translate(3544)"><g id="s36"><use href="#GH" y="1420"/><text class="w" y="1437">SIDE 36</text></g><g id="a351"><use href="#GA" y="1466"/><text y="1483">351. ARTIKKEL</text></g><g id="a352"><use href="#GA" y="1512"/><text y="1529">352. ARTIKKEL</text></g><g id="a353"><use href="#GA" y="1559"/><text y="1576">353. ARTIKKEL</text></g><g id="a354"><use href="#GA" y="1605"/><text y="1622">354. ARTIKKEL</text></g><g id="a355"><use href="#GA" y="1652"/><text y="1669">355. ARTIKKEL</text></g><g id="a356"><use href="#GA" y="1698"/><text y="1715">356. ARTIKKEL</text></g><g id="a357"><use href="#GA" y="1744"/><text y="1761">357. ARTIKKEL</text></g><g id="a358"><use href="#GA" y="1791"/><text y="1808">358. ARTIKKEL</text></g><g id="a359"><use href="#GA" y="1837"/><text y="1854">359. ARTIKKEL</text></g><g id="a360"><use href="#GA" y="1884"/><text y="1901">360. ARTIKKEL</text></g><g id="k36"><use href="#GK" y="1924"/><text y="1941">SØK</text></g><g id="j36"><use href="#GS" y="1964"/><text class="l" y="1981">SKJEMA</text></g><g id="f36"><use href="#GF" y="2013"/><text y="2030">FOOTER</text></g></g>
<g id="col37" transform="translate(3655)"><g id="s37"><use href="#GH" y="1420"/><text class="w" y="1437">SIDE 36</text></g><g id="a361"><use href="#GA" y="1466"/><text y="1483">361. ARTIKKEL</text></g><g id="a362"><use href="#GA" y="1512"/><text y="1529">362. ARTIKKEL</text></g><g id="a363"><use href="#GA" y="1559"/><text y="1576">363. ARTIKKEL</text></g><g id="a364"><use href="#GA" y="1605"/><text y="1622">364. ARTIKKEL</text></g><g id="a365"><use href="#GA" y="1652"/><text y="1669">365. ARTIKKEL</text></g><g id="k37"><use href="#GK" y="1698"/><text y="1715">SØK</text></g><g id="j37"><use href="#GS" y="1744"/><text class="l" y="1761">SKJEMA</text></g><g id="f37"><use href="#GF" y="1791"/><text y="1808">FOOTER</text></g></g>
</svg>
